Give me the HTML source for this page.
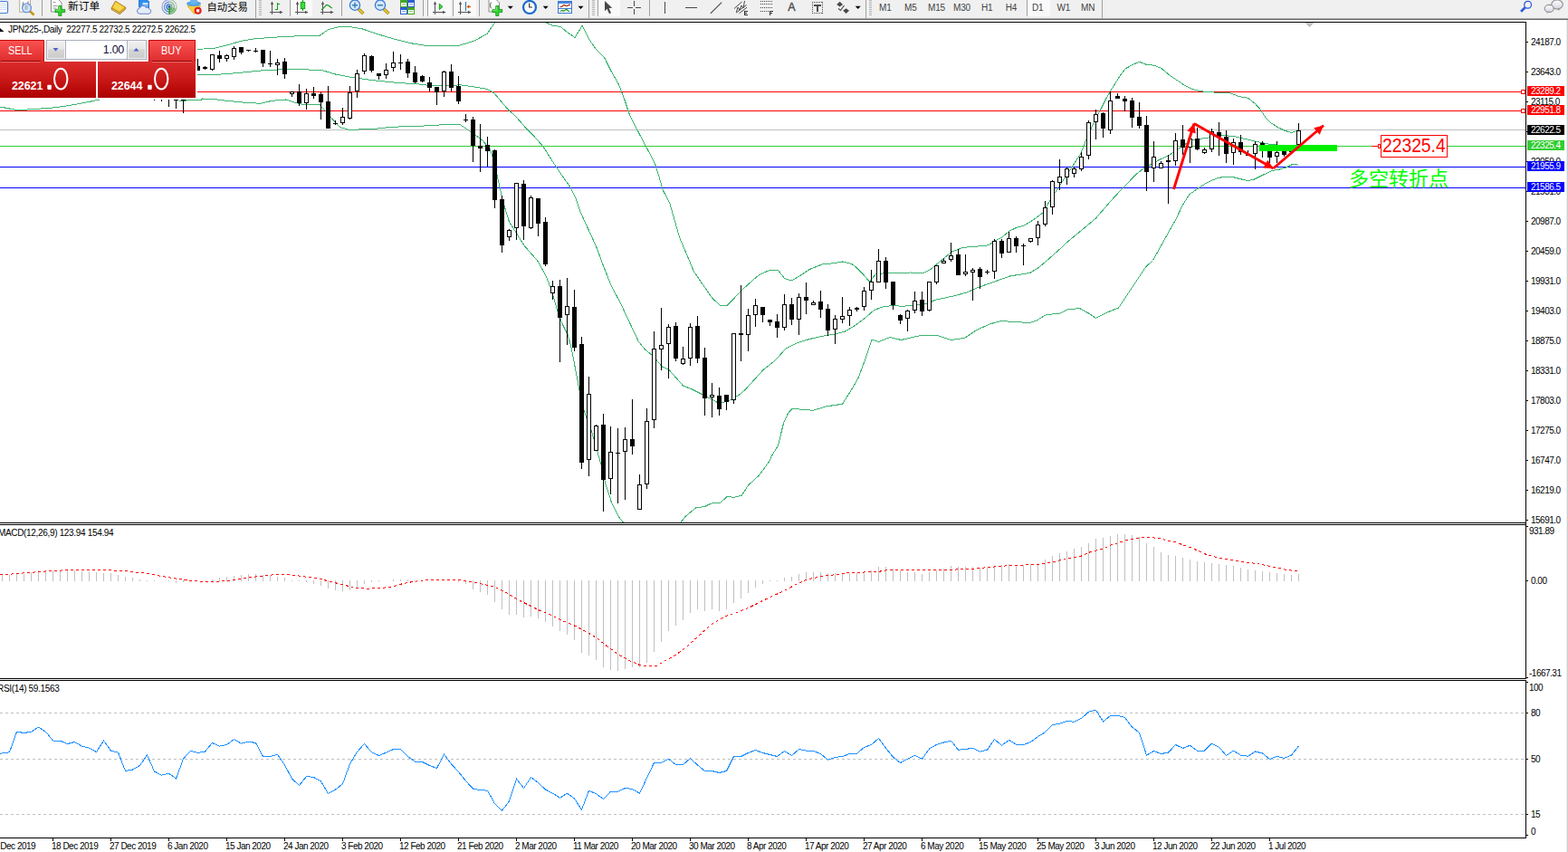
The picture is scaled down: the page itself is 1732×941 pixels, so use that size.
<!DOCTYPE html>
<html><head><meta charset="utf-8"><title>JPN225 Daily</title>
<style>
html,body{margin:0;padding:0;background:#fff;}
body{width:1732px;height:941px;position:relative;overflow:hidden;font-family:"Liberation Sans",sans-serif;}
svg{position:absolute;left:0;top:0;}
.t{position:absolute;white-space:nowrap;font-family:"Liberation Sans",sans-serif;}
</style></head><body>
<svg width="1732" height="941" viewBox="0 0 1732 941" shape-rendering="crispEdges">
<defs><clipPath id="cm"><rect x="0" y="25" width="1685" height="552"/></clipPath></defs>
<rect x="0" y="0" width="1732" height="20" fill="#f0f0f0"/>
<rect x="0" y="20" width="1732" height="1" fill="#a9a9a9"/>
<rect x="0" y="21" width="1732" height="1" fill="#696969"/>
<rect x="0" y="22" width="1732" height="919" fill="#ffffff"/>
<rect x="1730" y="22" width="1" height="919" fill="#ececec"/>
<rect x="1731" y="22" width="1" height="919" fill="#cfcfcf"/>
<rect x="0" y="24" width="1686" height="1" fill="#000"/>
<rect x="1685" y="24" width="1" height="726" fill="#000"/>
<rect x="1685" y="751" width="1" height="175" fill="#000"/>
<rect x="0" y="577" width="1686" height="1" fill="#000"/>
<rect x="0" y="579" width="1686" height="1" fill="#000"/>
<rect x="0" y="749" width="1686" height="1" fill="#000"/>
<rect x="0" y="751" width="1686" height="1" fill="#000"/>
<rect x="0" y="925" width="1686" height="1" fill="#000"/>
<polygon points="1442,25 1451.5,25 1446.7,30" fill="#c0c0c0"/>
<rect x="0" y="143" width="1685" height="1" fill="#c0c0c0"/>
<rect x="0" y="101" width="1685" height="1" fill="#ff0000"/>
<rect x="0" y="122" width="1685" height="1" fill="#ff0000"/>
<rect x="0" y="161" width="1685" height="1" fill="#32cd32"/>
<rect x="0" y="184" width="1685" height="1" fill="#0000ff"/>
<rect x="0" y="207" width="1685" height="1" fill="#0000ff"/>
<polyline points="218.0,54.5 238.0,53.0 250.5,50.0 265.5,45.5 280.5,43.0 300.5,41.3 325.5,40.0 353.0,39.3 363.0,32.5 375.5,29.3 385.5,29.3 400.5,32.0 418.0,38.0 438.0,43.8 455.5,48.0 470.5,50.5 488.0,51.0 508.0,50.0 523.0,45.5 538.0,37.5 546.5,25.0" fill="none" stroke="#3cb371" stroke-width="1" clip-path="url(#cm)"/>
<polyline points="603.0,25.0 610.2,28.0 619.2,29.5 626.5,35.5 635.0,41.5 643.2,28.3 650.5,43.0 658.2,54.3 668.0,64.3 674.5,77.5 683.5,93.3 689.5,109.0 695.5,127.0 700.5,137.0 712.5,159.8 723.2,180.0 727.5,193.6 732.2,210.0 739.5,223.6 745.5,244.6 750.5,262.0 766.5,300.0 777.5,316.0 786.5,329.0 795.5,337.5 803.5,337.2 817.5,322.5 826.5,314.0 835.5,306.0 840.5,302.5 850.5,298.3 859.3,298.3 866.5,307.5 874.3,310.0 883.0,305.0 894.3,297.5 908.0,292.0 923.0,290.5 930.5,289.0 940.5,291.3 945.5,295.0 953.5,303.0 960.5,311.3 967.5,302.5 975.5,302.0 990.5,301.8 1005.5,301.0 1019.3,301.8 1028.0,297.5 1034.5,292.0 1042.5,285.5 1051.5,278.0 1063.5,273.5 1074.5,272.3 1087.5,271.6 1092.5,270.5 1098.5,266.0 1106.5,262.3 1115.5,254.8 1122.5,251.6 1131.5,248.8 1140.5,243.5 1152.5,234.5 1160.5,220.0 1180.5,190.0 1193.5,170.0 1200.0,154.0 1205.3,142.0 1210.5,130.0 1216.5,119.6 1221.8,109.0 1227.0,100.0 1231.5,92.6 1236.8,84.3 1242.8,76.0 1251.1,71.5 1258.5,68.2 1266.1,71.2 1275.1,72.3 1282.5,75.3 1291.5,82.8 1300.5,88.8 1308.1,94.0 1317.1,98.6 1326.9,100.8 1344.2,102.3 1357.5,102.3 1369.5,106.8 1378.5,108.3 1386.2,114.3 1392.2,121.0 1398.2,130.0 1404.2,136.0 1411.5,140.6 1419.2,144.3 1426.5,146.6 1434.5,143.6" fill="none" stroke="#3cb371" stroke-width="1" clip-path="url(#cm)"/>
<polyline points="218.0,83.0 238.0,82.5 263.0,80.5 288.0,78.0 318.0,76.3 335.5,76.8 355.5,77.5 370.5,82.0 390.5,85.8 413.0,88.8 438.0,91.3 463.0,93.0 475.5,94.5 490.5,95.0 508.0,93.8 523.0,95.8 538.0,98.3 545.5,102.5 560.3,120.0 570.1,129.0 580.5,141.0 589.5,150.0 600.1,162.0 610.5,178.6 619.5,192.0 630.1,207.0 636.1,219.0 640.5,232.6 646.5,246.0 658.5,272.0 666.2,293.0 675.2,315.6 685.5,335.0 697.5,360.6 705.2,377.0 712.5,386.0 720.5,392.5 731.5,405.0 739.0,408.5 754.5,426.0 764.5,430.0 776.5,436.0 792.5,444.5 798.5,444.5 808.5,441.0 818.0,435.0 823.5,430.0 843.5,408.0 855.5,398.8 868.0,385.0 880.5,378.8 890.5,375.5 905.5,371.8 923.0,368.8 933.0,366.3 945.5,358.8 955.5,351.3 965.5,342.5 975.5,338.8 985.5,337.5 998.0,338.3 1008.0,337.0 1025.5,335.0 1033.0,331.3 1053.0,327.0 1068.0,323.0 1080.5,317.5 1098.0,311.3 1115.5,305.0 1138.0,301.3 1148.0,295.0 1158.0,286.3 1168.0,277.5 1180.5,266.0 1200.5,249.5 1210.5,241.0 1230.5,218.0 1240.5,207.5 1255.5,192.0 1264.5,185.0 1272.5,181.0 1280.5,176.5 1290.5,172.0 1296.5,168.0 1315.5,155.0 1333.5,152.2 1350.5,149.5 1362.5,150.5 1375.5,153.5 1388.5,156.5 1400.5,159.0 1420.5,161.0 1434.5,161.5" fill="none" stroke="#3cb371" stroke-width="1" clip-path="url(#cm)"/>
<polyline points="0.5,118.0 10.5,120.0 20.5,121.8 35.5,120.5 52.5,119.6 70.5,117.5 85.5,115.0 100.5,112.0 109.5,110.0" fill="none" stroke="#3cb371" stroke-width="1" clip-path="url(#cm)"/>
<polyline points="197.5,111.0 205.5,111.0 206.5,110.0 222.5,110.0 223.5,109.0 235.5,109.3 245.5,110.8 268.0,113.0 288.0,114.3 300.5,111.3 315.5,110.0 328.0,113.8 335.5,115.5 353.0,115.5 360.5,123.8 368.0,132.5 375.5,140.5 385.5,143.3 413.0,142.5 430.5,140.5 450.5,139.5 475.5,138.8 490.5,137.5 508.0,137.5 519.3,145.0 533.0,155.0 541.5,165.0 545.5,177.5 550.5,200.0 555.5,222.5 562.5,245.0 579.1,271.3 594.1,288.5 603.1,305.0 609.1,320.0 615.1,341.0 621.1,357.6 627.3,370.0 631.5,386.0 640.0,430.8 645.3,454.0 648.3,462.3 653.5,476.6 656.5,487.0 659.5,497.6 664.5,515.0 668.5,533.0 675.5,555.0 683.5,571.0 688.5,577.0" fill="none" stroke="#3cb371" stroke-width="1" clip-path="url(#cm)"/>
<polyline points="751.9,577.0 757.5,570.0 768.5,561.0 778.5,559.5 786.5,555.6 795.5,555.3 803.5,548.3 810.5,549.3 819.1,547.4 826.5,536.0 832.5,530.5 838.5,525.0 850.5,508.5 851.5,504.8 859.3,492.5 865.5,467.5 870.5,456.3 875.0,451.3 898.0,453.3 913.0,448.8 930.5,446.3 939.3,432.5 948.0,417.5 955.5,397.5 963.0,375.0 970.5,377.5 983.0,372.5 995.5,375.5 1015.5,370.8 1035.5,370.5 1050.5,375.5 1065.5,373.3 1078.0,365.0 1093.0,358.0 1105.5,354.5 1120.5,355.5 1138.0,356.5 1145.5,353.8 1155.5,347.5 1170.5,346.3 1180.5,341.3 1193.0,340.8 1203.0,346.3 1210.5,351.3 1223.0,345.0 1235.5,340.0 1245.5,325.0 1255.5,310.0 1265.5,295.0 1273.5,287.5 1299.5,241.0 1305.5,228.0 1313.5,215.0 1325.5,206.5 1335.5,200.5 1345.5,196.5 1353.5,195.2 1363.5,196.0 1371.5,198.0 1378.5,199.5 1385.5,198.0 1395.5,193.0 1405.5,188.5 1413.5,187.0 1420.5,185.0 1427.5,181.5 1431.5,181.5 1434.5,182.5" fill="none" stroke="#3cb371" stroke-width="1" clip-path="url(#cm)"/>
<rect x="170" y="100" width="1" height="11" fill="#000"/>
<rect x="170" y="100" width="1" height="11" fill="#000"/>
<rect x="168" y="100" width="5" height="8" fill="#000"/>
<rect x="169" y="101" width="3" height="6" fill="#fff"/>
<rect x="178" y="100" width="1" height="12" fill="#000"/>
<rect x="178" y="100" width="1" height="12" fill="#000"/>
<rect x="176" y="100" width="5" height="10" fill="#000"/>
<rect x="177" y="101" width="3" height="8" fill="#fff"/>
<rect x="186" y="100" width="1" height="18" fill="#000"/>
<rect x="186" y="100" width="1" height="18" fill="#000"/>
<rect x="184" y="100" width="5" height="8" fill="#000"/>
<rect x="185" y="101" width="3" height="6" fill="#fff"/>
<rect x="194" y="100" width="1" height="20" fill="#000"/>
<rect x="192" y="100" width="5" height="11" fill="#000"/>
<rect x="202" y="100" width="1" height="25" fill="#000"/>
<rect x="202" y="100" width="1" height="25" fill="#000"/>
<rect x="200" y="100" width="5" height="11" fill="#000"/>
<rect x="201" y="101" width="3" height="9" fill="#fff"/>
<rect x="218" y="65" width="1" height="13" fill="#000"/>
<rect x="216" y="73" width="5" height="5" fill="#000"/>
<rect x="226" y="73" width="1" height="4" fill="#000"/>
<rect x="224" y="74" width="5" height="2" fill="#000"/>
<rect x="234" y="60" width="1" height="18" fill="#000"/>
<rect x="234" y="60" width="1" height="18" fill="#000"/>
<rect x="232" y="60" width="5" height="17" fill="#000"/>
<rect x="233" y="61" width="3" height="15" fill="#fff"/>
<rect x="242" y="56" width="1" height="13" fill="#000"/>
<rect x="240" y="61" width="5" height="4" fill="#000"/>
<rect x="250" y="60" width="1" height="8" fill="#000"/>
<rect x="250" y="60" width="1" height="8" fill="#000"/>
<rect x="248" y="61" width="5" height="4" fill="#000"/>
<rect x="249" y="62" width="3" height="2" fill="#fff"/>
<rect x="258" y="51" width="1" height="15" fill="#000"/>
<rect x="258" y="51" width="1" height="15" fill="#000"/>
<rect x="256" y="53" width="5" height="10" fill="#000"/>
<rect x="257" y="54" width="3" height="8" fill="#fff"/>
<rect x="266" y="52" width="1" height="8" fill="#000"/>
<rect x="264" y="52" width="5" height="6" fill="#000"/>
<rect x="274" y="55" width="1" height="2" fill="#000"/>
<rect x="272" y="55" width="5" height="1" fill="#000"/>
<rect x="282" y="53" width="1" height="5" fill="#000"/>
<rect x="280" y="56" width="5" height="1" fill="#000"/>
<rect x="290" y="55" width="1" height="19" fill="#000"/>
<rect x="288" y="55" width="5" height="15" fill="#000"/>
<rect x="298" y="56" width="1" height="18" fill="#000"/>
<rect x="296" y="70" width="5" height="1" fill="#000"/>
<rect x="306" y="65" width="1" height="18" fill="#000"/>
<rect x="306" y="65" width="1" height="18" fill="#000"/>
<rect x="304" y="69" width="5" height="3" fill="#000"/>
<rect x="305" y="70" width="3" height="1" fill="#fff"/>
<rect x="314" y="64" width="1" height="23" fill="#000"/>
<rect x="312" y="68" width="5" height="14" fill="#000"/>
<rect x="322" y="101" width="1" height="6" fill="#000"/>
<rect x="322" y="101" width="1" height="6" fill="#000"/>
<rect x="320" y="101" width="5" height="3" fill="#000"/>
<rect x="321" y="102" width="3" height="1" fill="#fff"/>
<rect x="330" y="93" width="1" height="24" fill="#000"/>
<rect x="328" y="101" width="5" height="13" fill="#000"/>
<rect x="338" y="98" width="1" height="23" fill="#000"/>
<rect x="338" y="98" width="1" height="23" fill="#000"/>
<rect x="336" y="103" width="5" height="11" fill="#000"/>
<rect x="337" y="104" width="3" height="9" fill="#fff"/>
<rect x="346" y="96" width="1" height="13" fill="#000"/>
<rect x="344" y="103" width="5" height="3" fill="#000"/>
<rect x="354" y="102" width="1" height="30" fill="#000"/>
<rect x="352" y="104" width="5" height="9" fill="#000"/>
<rect x="362" y="95" width="1" height="47" fill="#000"/>
<rect x="360" y="112" width="5" height="30" fill="#000"/>
<rect x="370" y="133" width="1" height="5" fill="#000"/>
<rect x="368" y="136" width="5" height="1" fill="#000"/>
<rect x="378" y="119" width="1" height="19" fill="#000"/>
<rect x="378" y="119" width="1" height="19" fill="#000"/>
<rect x="376" y="129" width="5" height="7" fill="#000"/>
<rect x="377" y="130" width="3" height="5" fill="#fff"/>
<rect x="386" y="95" width="1" height="37" fill="#000"/>
<rect x="386" y="95" width="1" height="37" fill="#000"/>
<rect x="384" y="102" width="5" height="29" fill="#000"/>
<rect x="385" y="103" width="3" height="27" fill="#fff"/>
<rect x="394" y="77" width="1" height="31" fill="#000"/>
<rect x="394" y="77" width="1" height="31" fill="#000"/>
<rect x="392" y="81" width="5" height="20" fill="#000"/>
<rect x="393" y="82" width="3" height="18" fill="#fff"/>
<rect x="402" y="59" width="1" height="23" fill="#000"/>
<rect x="402" y="59" width="1" height="23" fill="#000"/>
<rect x="400" y="61" width="5" height="18" fill="#000"/>
<rect x="401" y="62" width="3" height="16" fill="#fff"/>
<rect x="410" y="61" width="1" height="19" fill="#000"/>
<rect x="408" y="62" width="5" height="16" fill="#000"/>
<rect x="418" y="81" width="1" height="7" fill="#000"/>
<rect x="416" y="81" width="5" height="3" fill="#000"/>
<rect x="426" y="70" width="1" height="17" fill="#000"/>
<rect x="426" y="70" width="1" height="17" fill="#000"/>
<rect x="424" y="77" width="5" height="6" fill="#000"/>
<rect x="425" y="78" width="3" height="4" fill="#fff"/>
<rect x="434" y="57" width="1" height="22" fill="#000"/>
<rect x="434" y="57" width="1" height="22" fill="#000"/>
<rect x="432" y="69" width="5" height="6" fill="#000"/>
<rect x="433" y="70" width="3" height="4" fill="#fff"/>
<rect x="442" y="60" width="1" height="17" fill="#000"/>
<rect x="440" y="69" width="5" height="1" fill="#000"/>
<rect x="450" y="65" width="1" height="21" fill="#000"/>
<rect x="448" y="68" width="5" height="13" fill="#000"/>
<rect x="458" y="73" width="1" height="19" fill="#000"/>
<rect x="456" y="80" width="5" height="11" fill="#000"/>
<rect x="466" y="83" width="1" height="8" fill="#000"/>
<rect x="464" y="84" width="5" height="6" fill="#000"/>
<rect x="474" y="85" width="1" height="16" fill="#000"/>
<rect x="472" y="91" width="5" height="6" fill="#000"/>
<rect x="482" y="96" width="1" height="20" fill="#000"/>
<rect x="480" y="96" width="5" height="6" fill="#000"/>
<rect x="490" y="78" width="1" height="29" fill="#000"/>
<rect x="490" y="78" width="1" height="29" fill="#000"/>
<rect x="488" y="79" width="5" height="22" fill="#000"/>
<rect x="489" y="80" width="3" height="20" fill="#fff"/>
<rect x="498" y="71" width="1" height="30" fill="#000"/>
<rect x="496" y="79" width="5" height="18" fill="#000"/>
<rect x="506" y="84" width="1" height="31" fill="#000"/>
<rect x="504" y="95" width="5" height="17" fill="#000"/>
<rect x="514" y="126" width="1" height="9" fill="#000"/>
<rect x="512" y="132" width="5" height="1" fill="#000"/>
<rect x="522" y="129" width="1" height="50" fill="#000"/>
<rect x="520" y="132" width="5" height="29" fill="#000"/>
<rect x="530" y="137" width="1" height="53" fill="#000"/>
<rect x="528" y="161" width="5" height="3" fill="#000"/>
<rect x="538" y="151" width="1" height="33" fill="#000"/>
<rect x="536" y="160" width="5" height="7" fill="#000"/>
<rect x="546" y="165" width="1" height="65" fill="#000"/>
<rect x="544" y="166" width="5" height="55" fill="#000"/>
<rect x="554" y="216" width="1" height="63" fill="#000"/>
<rect x="552" y="220" width="5" height="51" fill="#000"/>
<rect x="562" y="253" width="1" height="13" fill="#000"/>
<rect x="562" y="253" width="1" height="13" fill="#000"/>
<rect x="560" y="254" width="5" height="8" fill="#000"/>
<rect x="561" y="255" width="3" height="6" fill="#fff"/>
<rect x="570" y="202" width="1" height="63" fill="#000"/>
<rect x="570" y="202" width="1" height="63" fill="#000"/>
<rect x="568" y="202" width="5" height="50" fill="#000"/>
<rect x="569" y="203" width="3" height="48" fill="#fff"/>
<rect x="578" y="199" width="1" height="66" fill="#000"/>
<rect x="576" y="203" width="5" height="47" fill="#000"/>
<rect x="586" y="216" width="1" height="37" fill="#000"/>
<rect x="586" y="216" width="1" height="37" fill="#000"/>
<rect x="584" y="218" width="5" height="34" fill="#000"/>
<rect x="585" y="219" width="3" height="32" fill="#fff"/>
<rect x="594" y="219" width="1" height="42" fill="#000"/>
<rect x="592" y="219" width="5" height="28" fill="#000"/>
<rect x="602" y="240" width="1" height="54" fill="#000"/>
<rect x="600" y="245" width="5" height="47" fill="#000"/>
<rect x="610" y="310" width="1" height="21" fill="#000"/>
<rect x="610" y="310" width="1" height="21" fill="#000"/>
<rect x="608" y="316" width="5" height="8" fill="#000"/>
<rect x="609" y="317" width="3" height="6" fill="#fff"/>
<rect x="618" y="309" width="1" height="91" fill="#000"/>
<rect x="616" y="316" width="5" height="35" fill="#000"/>
<rect x="626" y="307" width="1" height="74" fill="#000"/>
<rect x="626" y="307" width="1" height="74" fill="#000"/>
<rect x="624" y="338" width="5" height="10" fill="#000"/>
<rect x="625" y="339" width="3" height="8" fill="#fff"/>
<rect x="634" y="320" width="1" height="68" fill="#000"/>
<rect x="632" y="339" width="5" height="45" fill="#000"/>
<rect x="642" y="372" width="1" height="146" fill="#000"/>
<rect x="640" y="380" width="5" height="131" fill="#000"/>
<rect x="650" y="416" width="1" height="110" fill="#000"/>
<rect x="650" y="416" width="1" height="110" fill="#000"/>
<rect x="648" y="435" width="5" height="73" fill="#000"/>
<rect x="649" y="436" width="3" height="71" fill="#fff"/>
<rect x="658" y="469" width="1" height="29" fill="#000"/>
<rect x="658" y="469" width="1" height="29" fill="#000"/>
<rect x="656" y="470" width="5" height="28" fill="#000"/>
<rect x="657" y="471" width="3" height="26" fill="#fff"/>
<rect x="666" y="457" width="1" height="108" fill="#000"/>
<rect x="664" y="469" width="5" height="61" fill="#000"/>
<rect x="674" y="471" width="1" height="75" fill="#000"/>
<rect x="674" y="471" width="1" height="75" fill="#000"/>
<rect x="672" y="499" width="5" height="30" fill="#000"/>
<rect x="673" y="500" width="3" height="28" fill="#fff"/>
<rect x="682" y="473" width="1" height="83" fill="#000"/>
<rect x="680" y="500" width="5" height="1" fill="#000"/>
<rect x="690" y="472" width="1" height="80" fill="#000"/>
<rect x="690" y="472" width="1" height="80" fill="#000"/>
<rect x="688" y="485" width="5" height="14" fill="#000"/>
<rect x="689" y="486" width="3" height="12" fill="#fff"/>
<rect x="698" y="441" width="1" height="61" fill="#000"/>
<rect x="696" y="485" width="5" height="8" fill="#000"/>
<rect x="706" y="524" width="1" height="39" fill="#000"/>
<rect x="706" y="524" width="1" height="39" fill="#000"/>
<rect x="704" y="535" width="5" height="28" fill="#000"/>
<rect x="705" y="536" width="3" height="26" fill="#fff"/>
<rect x="714" y="451" width="1" height="89" fill="#000"/>
<rect x="714" y="451" width="1" height="89" fill="#000"/>
<rect x="712" y="465" width="5" height="70" fill="#000"/>
<rect x="713" y="466" width="3" height="68" fill="#fff"/>
<rect x="722" y="366" width="1" height="107" fill="#000"/>
<rect x="722" y="366" width="1" height="107" fill="#000"/>
<rect x="720" y="385" width="5" height="79" fill="#000"/>
<rect x="721" y="386" width="3" height="77" fill="#fff"/>
<rect x="730" y="340" width="1" height="69" fill="#000"/>
<rect x="730" y="340" width="1" height="69" fill="#000"/>
<rect x="728" y="381" width="5" height="5" fill="#000"/>
<rect x="729" y="382" width="3" height="3" fill="#fff"/>
<rect x="738" y="358" width="1" height="60" fill="#000"/>
<rect x="738" y="358" width="1" height="60" fill="#000"/>
<rect x="736" y="361" width="5" height="19" fill="#000"/>
<rect x="737" y="362" width="3" height="17" fill="#fff"/>
<rect x="746" y="356" width="1" height="43" fill="#000"/>
<rect x="744" y="360" width="5" height="36" fill="#000"/>
<rect x="754" y="383" width="1" height="20" fill="#000"/>
<rect x="754" y="383" width="1" height="20" fill="#000"/>
<rect x="752" y="396" width="5" height="6" fill="#000"/>
<rect x="753" y="397" width="3" height="4" fill="#fff"/>
<rect x="762" y="357" width="1" height="47" fill="#000"/>
<rect x="762" y="357" width="1" height="47" fill="#000"/>
<rect x="760" y="361" width="5" height="35" fill="#000"/>
<rect x="761" y="362" width="3" height="33" fill="#fff"/>
<rect x="770" y="349" width="1" height="52" fill="#000"/>
<rect x="768" y="360" width="5" height="36" fill="#000"/>
<rect x="778" y="384" width="1" height="75" fill="#000"/>
<rect x="776" y="395" width="5" height="45" fill="#000"/>
<rect x="786" y="423" width="1" height="38" fill="#000"/>
<rect x="786" y="423" width="1" height="38" fill="#000"/>
<rect x="784" y="436" width="5" height="3" fill="#000"/>
<rect x="785" y="437" width="3" height="1" fill="#fff"/>
<rect x="794" y="428" width="1" height="31" fill="#000"/>
<rect x="792" y="437" width="5" height="15" fill="#000"/>
<rect x="802" y="436" width="1" height="17" fill="#000"/>
<rect x="800" y="436" width="5" height="8" fill="#000"/>
<rect x="810" y="368" width="1" height="78" fill="#000"/>
<rect x="810" y="368" width="1" height="78" fill="#000"/>
<rect x="808" y="368" width="5" height="74" fill="#000"/>
<rect x="809" y="369" width="3" height="72" fill="#fff"/>
<rect x="818" y="315" width="1" height="84" fill="#000"/>
<rect x="816" y="368" width="5" height="2" fill="#000"/>
<rect x="826" y="341" width="1" height="47" fill="#000"/>
<rect x="826" y="341" width="1" height="47" fill="#000"/>
<rect x="824" y="348" width="5" height="22" fill="#000"/>
<rect x="825" y="349" width="3" height="20" fill="#fff"/>
<rect x="834" y="330" width="1" height="31" fill="#000"/>
<rect x="834" y="330" width="1" height="31" fill="#000"/>
<rect x="832" y="337" width="5" height="11" fill="#000"/>
<rect x="833" y="338" width="3" height="9" fill="#fff"/>
<rect x="842" y="339" width="1" height="17" fill="#000"/>
<rect x="840" y="339" width="5" height="9" fill="#000"/>
<rect x="850" y="353" width="1" height="7" fill="#000"/>
<rect x="848" y="353" width="5" height="3" fill="#000"/>
<rect x="858" y="347" width="1" height="26" fill="#000"/>
<rect x="856" y="355" width="5" height="7" fill="#000"/>
<rect x="866" y="325" width="1" height="40" fill="#000"/>
<rect x="866" y="325" width="1" height="40" fill="#000"/>
<rect x="864" y="336" width="5" height="26" fill="#000"/>
<rect x="865" y="337" width="3" height="24" fill="#fff"/>
<rect x="874" y="329" width="1" height="30" fill="#000"/>
<rect x="872" y="336" width="5" height="17" fill="#000"/>
<rect x="882" y="324" width="1" height="46" fill="#000"/>
<rect x="882" y="324" width="1" height="46" fill="#000"/>
<rect x="880" y="328" width="5" height="25" fill="#000"/>
<rect x="881" y="329" width="3" height="23" fill="#fff"/>
<rect x="890" y="312" width="1" height="35" fill="#000"/>
<rect x="888" y="328" width="5" height="4" fill="#000"/>
<rect x="898" y="332" width="1" height="4" fill="#000"/>
<rect x="898" y="332" width="1" height="5" fill="#000"/>
<rect x="896" y="334" width="5" height="3" fill="#000"/>
<rect x="897" y="335" width="3" height="1" fill="#fff"/>
<rect x="906" y="321" width="1" height="30" fill="#000"/>
<rect x="904" y="333" width="5" height="9" fill="#000"/>
<rect x="914" y="336" width="1" height="35" fill="#000"/>
<rect x="912" y="341" width="5" height="24" fill="#000"/>
<rect x="922" y="348" width="1" height="32" fill="#000"/>
<rect x="922" y="348" width="1" height="32" fill="#000"/>
<rect x="920" y="352" width="5" height="12" fill="#000"/>
<rect x="921" y="353" width="3" height="10" fill="#fff"/>
<rect x="930" y="328" width="1" height="29" fill="#000"/>
<rect x="930" y="328" width="1" height="29" fill="#000"/>
<rect x="928" y="349" width="5" height="4" fill="#000"/>
<rect x="929" y="350" width="3" height="2" fill="#fff"/>
<rect x="938" y="339" width="1" height="21" fill="#000"/>
<rect x="938" y="339" width="1" height="21" fill="#000"/>
<rect x="936" y="342" width="5" height="7" fill="#000"/>
<rect x="937" y="343" width="3" height="5" fill="#fff"/>
<rect x="946" y="339" width="1" height="5" fill="#000"/>
<rect x="944" y="340" width="5" height="2" fill="#000"/>
<rect x="954" y="317" width="1" height="26" fill="#000"/>
<rect x="954" y="317" width="1" height="26" fill="#000"/>
<rect x="952" y="321" width="5" height="18" fill="#000"/>
<rect x="953" y="322" width="3" height="16" fill="#fff"/>
<rect x="962" y="298" width="1" height="33" fill="#000"/>
<rect x="962" y="298" width="1" height="33" fill="#000"/>
<rect x="960" y="311" width="5" height="10" fill="#000"/>
<rect x="961" y="312" width="3" height="8" fill="#fff"/>
<rect x="970" y="275" width="1" height="37" fill="#000"/>
<rect x="970" y="275" width="1" height="37" fill="#000"/>
<rect x="968" y="288" width="5" height="24" fill="#000"/>
<rect x="969" y="289" width="3" height="22" fill="#fff"/>
<rect x="978" y="284" width="1" height="35" fill="#000"/>
<rect x="976" y="288" width="5" height="24" fill="#000"/>
<rect x="986" y="311" width="1" height="31" fill="#000"/>
<rect x="984" y="311" width="5" height="26" fill="#000"/>
<rect x="994" y="347" width="1" height="11" fill="#000"/>
<rect x="992" y="348" width="5" height="6" fill="#000"/>
<rect x="1002" y="342" width="1" height="24" fill="#000"/>
<rect x="1002" y="342" width="1" height="24" fill="#000"/>
<rect x="1000" y="343" width="5" height="9" fill="#000"/>
<rect x="1001" y="344" width="3" height="7" fill="#fff"/>
<rect x="1010" y="322" width="1" height="24" fill="#000"/>
<rect x="1010" y="322" width="1" height="24" fill="#000"/>
<rect x="1008" y="332" width="5" height="11" fill="#000"/>
<rect x="1009" y="333" width="3" height="9" fill="#fff"/>
<rect x="1018" y="322" width="1" height="27" fill="#000"/>
<rect x="1016" y="331" width="5" height="13" fill="#000"/>
<rect x="1026" y="311" width="1" height="33" fill="#000"/>
<rect x="1026" y="311" width="1" height="33" fill="#000"/>
<rect x="1024" y="311" width="5" height="32" fill="#000"/>
<rect x="1025" y="312" width="3" height="30" fill="#fff"/>
<rect x="1034" y="293" width="1" height="21" fill="#000"/>
<rect x="1034" y="293" width="1" height="21" fill="#000"/>
<rect x="1032" y="293" width="5" height="19" fill="#000"/>
<rect x="1033" y="294" width="3" height="17" fill="#fff"/>
<rect x="1042" y="285" width="1" height="5" fill="#000"/>
<rect x="1042" y="285" width="1" height="6" fill="#000"/>
<rect x="1040" y="288" width="5" height="3" fill="#000"/>
<rect x="1041" y="289" width="3" height="1" fill="#fff"/>
<rect x="1050" y="268" width="1" height="21" fill="#000"/>
<rect x="1050" y="268" width="1" height="21" fill="#000"/>
<rect x="1048" y="282" width="5" height="5" fill="#000"/>
<rect x="1049" y="283" width="3" height="3" fill="#fff"/>
<rect x="1058" y="275" width="1" height="29" fill="#000"/>
<rect x="1056" y="281" width="5" height="23" fill="#000"/>
<rect x="1066" y="281" width="1" height="24" fill="#000"/>
<rect x="1066" y="281" width="1" height="24" fill="#000"/>
<rect x="1064" y="300" width="5" height="3" fill="#000"/>
<rect x="1065" y="301" width="3" height="1" fill="#fff"/>
<rect x="1074" y="296" width="1" height="36" fill="#000"/>
<rect x="1074" y="296" width="1" height="36" fill="#000"/>
<rect x="1072" y="298" width="5" height="3" fill="#000"/>
<rect x="1073" y="299" width="3" height="1" fill="#fff"/>
<rect x="1082" y="295" width="1" height="24" fill="#000"/>
<rect x="1080" y="297" width="5" height="9" fill="#000"/>
<rect x="1090" y="298" width="1" height="5" fill="#000"/>
<rect x="1088" y="300" width="5" height="1" fill="#000"/>
<rect x="1098" y="264" width="1" height="44" fill="#000"/>
<rect x="1098" y="264" width="1" height="44" fill="#000"/>
<rect x="1096" y="266" width="5" height="34" fill="#000"/>
<rect x="1097" y="267" width="3" height="32" fill="#fff"/>
<rect x="1106" y="264" width="1" height="21" fill="#000"/>
<rect x="1104" y="266" width="5" height="14" fill="#000"/>
<rect x="1114" y="256" width="1" height="23" fill="#000"/>
<rect x="1114" y="256" width="1" height="23" fill="#000"/>
<rect x="1112" y="263" width="5" height="16" fill="#000"/>
<rect x="1113" y="264" width="3" height="14" fill="#fff"/>
<rect x="1122" y="261" width="1" height="18" fill="#000"/>
<rect x="1120" y="263" width="5" height="9" fill="#000"/>
<rect x="1130" y="269" width="1" height="24" fill="#000"/>
<rect x="1128" y="271" width="5" height="1" fill="#000"/>
<rect x="1138" y="263" width="1" height="5" fill="#000"/>
<rect x="1138" y="263" width="1" height="5" fill="#000"/>
<rect x="1136" y="263" width="5" height="4" fill="#000"/>
<rect x="1137" y="264" width="3" height="2" fill="#fff"/>
<rect x="1146" y="244" width="1" height="27" fill="#000"/>
<rect x="1146" y="244" width="1" height="27" fill="#000"/>
<rect x="1144" y="248" width="5" height="15" fill="#000"/>
<rect x="1145" y="249" width="3" height="13" fill="#fff"/>
<rect x="1154" y="222" width="1" height="28" fill="#000"/>
<rect x="1154" y="222" width="1" height="28" fill="#000"/>
<rect x="1152" y="229" width="5" height="19" fill="#000"/>
<rect x="1153" y="230" width="3" height="17" fill="#fff"/>
<rect x="1162" y="199" width="1" height="38" fill="#000"/>
<rect x="1162" y="199" width="1" height="38" fill="#000"/>
<rect x="1160" y="200" width="5" height="29" fill="#000"/>
<rect x="1161" y="201" width="3" height="27" fill="#fff"/>
<rect x="1170" y="176" width="1" height="34" fill="#000"/>
<rect x="1170" y="176" width="1" height="34" fill="#000"/>
<rect x="1168" y="195" width="5" height="7" fill="#000"/>
<rect x="1169" y="196" width="3" height="5" fill="#fff"/>
<rect x="1178" y="185" width="1" height="19" fill="#000"/>
<rect x="1178" y="185" width="1" height="19" fill="#000"/>
<rect x="1176" y="186" width="5" height="10" fill="#000"/>
<rect x="1177" y="187" width="3" height="8" fill="#fff"/>
<rect x="1186" y="185" width="1" height="11" fill="#000"/>
<rect x="1186" y="185" width="1" height="11" fill="#000"/>
<rect x="1184" y="186" width="5" height="6" fill="#000"/>
<rect x="1185" y="187" width="3" height="4" fill="#fff"/>
<rect x="1194" y="168" width="1" height="21" fill="#000"/>
<rect x="1194" y="168" width="1" height="21" fill="#000"/>
<rect x="1192" y="173" width="5" height="14" fill="#000"/>
<rect x="1193" y="174" width="3" height="12" fill="#fff"/>
<rect x="1202" y="133" width="1" height="43" fill="#000"/>
<rect x="1202" y="133" width="1" height="43" fill="#000"/>
<rect x="1200" y="135" width="5" height="37" fill="#000"/>
<rect x="1201" y="136" width="3" height="35" fill="#fff"/>
<rect x="1210" y="121" width="1" height="33" fill="#000"/>
<rect x="1210" y="121" width="1" height="33" fill="#000"/>
<rect x="1208" y="126" width="5" height="9" fill="#000"/>
<rect x="1209" y="127" width="3" height="7" fill="#fff"/>
<rect x="1218" y="124" width="1" height="28" fill="#000"/>
<rect x="1216" y="125" width="5" height="17" fill="#000"/>
<rect x="1226" y="101" width="1" height="47" fill="#000"/>
<rect x="1226" y="101" width="1" height="47" fill="#000"/>
<rect x="1224" y="111" width="5" height="33" fill="#000"/>
<rect x="1225" y="112" width="3" height="31" fill="#fff"/>
<rect x="1234" y="103" width="1" height="6" fill="#000"/>
<rect x="1232" y="106" width="5" height="3" fill="#000"/>
<rect x="1242" y="106" width="1" height="17" fill="#000"/>
<rect x="1240" y="109" width="5" height="3" fill="#000"/>
<rect x="1250" y="108" width="1" height="33" fill="#000"/>
<rect x="1248" y="111" width="5" height="19" fill="#000"/>
<rect x="1258" y="113" width="1" height="29" fill="#000"/>
<rect x="1256" y="129" width="5" height="10" fill="#000"/>
<rect x="1266" y="128" width="1" height="83" fill="#000"/>
<rect x="1264" y="138" width="5" height="52" fill="#000"/>
<rect x="1274" y="156" width="1" height="45" fill="#000"/>
<rect x="1274" y="156" width="1" height="45" fill="#000"/>
<rect x="1272" y="173" width="5" height="13" fill="#000"/>
<rect x="1273" y="174" width="3" height="11" fill="#fff"/>
<rect x="1282" y="178" width="1" height="8" fill="#000"/>
<rect x="1282" y="178" width="1" height="8" fill="#000"/>
<rect x="1280" y="180" width="5" height="6" fill="#000"/>
<rect x="1281" y="181" width="3" height="4" fill="#fff"/>
<rect x="1290" y="171" width="1" height="54" fill="#000"/>
<rect x="1288" y="177" width="5" height="2" fill="#000"/>
<rect x="1298" y="147" width="1" height="36" fill="#000"/>
<rect x="1298" y="147" width="1" height="36" fill="#000"/>
<rect x="1296" y="155" width="5" height="23" fill="#000"/>
<rect x="1297" y="156" width="3" height="21" fill="#fff"/>
<rect x="1306" y="138" width="1" height="33" fill="#000"/>
<rect x="1304" y="154" width="5" height="9" fill="#000"/>
<rect x="1314" y="153" width="1" height="27" fill="#000"/>
<rect x="1314" y="153" width="1" height="27" fill="#000"/>
<rect x="1312" y="153" width="5" height="10" fill="#000"/>
<rect x="1313" y="154" width="3" height="8" fill="#fff"/>
<rect x="1322" y="141" width="1" height="25" fill="#000"/>
<rect x="1320" y="153" width="5" height="12" fill="#000"/>
<rect x="1330" y="163" width="1" height="7" fill="#000"/>
<rect x="1330" y="163" width="1" height="7" fill="#000"/>
<rect x="1328" y="165" width="5" height="4" fill="#000"/>
<rect x="1329" y="166" width="3" height="2" fill="#fff"/>
<rect x="1338" y="142" width="1" height="26" fill="#000"/>
<rect x="1338" y="142" width="1" height="26" fill="#000"/>
<rect x="1336" y="145" width="5" height="20" fill="#000"/>
<rect x="1337" y="146" width="3" height="18" fill="#fff"/>
<rect x="1346" y="135" width="1" height="37" fill="#000"/>
<rect x="1344" y="146" width="5" height="5" fill="#000"/>
<rect x="1354" y="144" width="1" height="36" fill="#000"/>
<rect x="1352" y="151" width="5" height="19" fill="#000"/>
<rect x="1362" y="153" width="1" height="29" fill="#000"/>
<rect x="1362" y="153" width="1" height="29" fill="#000"/>
<rect x="1360" y="157" width="5" height="12" fill="#000"/>
<rect x="1361" y="158" width="3" height="10" fill="#fff"/>
<rect x="1370" y="149" width="1" height="22" fill="#000"/>
<rect x="1368" y="157" width="5" height="11" fill="#000"/>
<rect x="1378" y="166" width="1" height="6" fill="#000"/>
<rect x="1376" y="170" width="5" height="2" fill="#000"/>
<rect x="1386" y="156" width="1" height="31" fill="#000"/>
<rect x="1386" y="156" width="1" height="31" fill="#000"/>
<rect x="1384" y="159" width="5" height="11" fill="#000"/>
<rect x="1385" y="160" width="3" height="9" fill="#fff"/>
<rect x="1394" y="156" width="1" height="18" fill="#000"/>
<rect x="1392" y="158" width="5" height="9" fill="#000"/>
<rect x="1402" y="166" width="1" height="14" fill="#000"/>
<rect x="1400" y="167" width="5" height="7" fill="#000"/>
<rect x="1410" y="156" width="1" height="24" fill="#000"/>
<rect x="1410" y="156" width="1" height="24" fill="#000"/>
<rect x="1408" y="168" width="5" height="5" fill="#000"/>
<rect x="1409" y="169" width="3" height="3" fill="#fff"/>
<rect x="1418" y="166" width="1" height="7" fill="#000"/>
<rect x="1416" y="167" width="5" height="4" fill="#000"/>
<rect x="1426" y="163" width="1" height="6" fill="#000"/>
<rect x="1426" y="163" width="1" height="6" fill="#000"/>
<rect x="1424" y="165" width="5" height="3" fill="#000"/>
<rect x="1425" y="166" width="3" height="1" fill="#fff"/>
<rect x="1434" y="136" width="1" height="24" fill="#000"/>
<rect x="1434" y="136" width="1" height="24" fill="#000"/>
<rect x="1432" y="144" width="5" height="16" fill="#000"/>
<rect x="1433" y="145" width="3" height="14" fill="#fff"/>
<rect x="2" y="634" width="1" height="8" fill="#c0c0c0"/>
<rect x="10" y="635" width="1" height="7" fill="#c0c0c0"/>
<rect x="18" y="634" width="1" height="8" fill="#c0c0c0"/>
<rect x="26" y="634" width="1" height="8" fill="#c0c0c0"/>
<rect x="34" y="632" width="1" height="10" fill="#c0c0c0"/>
<rect x="42" y="630" width="1" height="12" fill="#c0c0c0"/>
<rect x="50" y="630" width="1" height="12" fill="#c0c0c0"/>
<rect x="58" y="630" width="1" height="12" fill="#c0c0c0"/>
<rect x="66" y="630" width="1" height="12" fill="#c0c0c0"/>
<rect x="74" y="630" width="1" height="12" fill="#c0c0c0"/>
<rect x="82" y="630" width="1" height="12" fill="#c0c0c0"/>
<rect x="90" y="631" width="1" height="11" fill="#c0c0c0"/>
<rect x="98" y="631" width="1" height="11" fill="#c0c0c0"/>
<rect x="106" y="632" width="1" height="10" fill="#c0c0c0"/>
<rect x="114" y="633" width="1" height="9" fill="#c0c0c0"/>
<rect x="122" y="633" width="1" height="9" fill="#c0c0c0"/>
<rect x="130" y="635" width="1" height="7" fill="#c0c0c0"/>
<rect x="138" y="637" width="1" height="5" fill="#c0c0c0"/>
<rect x="146" y="638" width="1" height="4" fill="#c0c0c0"/>
<rect x="154" y="640" width="1" height="2" fill="#c0c0c0"/>
<rect x="162" y="641" width="1" height="1" fill="#c0c0c0"/>
<rect x="170" y="641" width="1" height="1" fill="#c0c0c0"/>
<rect x="186" y="641" width="1" height="1" fill="#c0c0c0"/>
<rect x="194" y="641" width="1" height="3" fill="#c0c0c0"/>
<rect x="202" y="641" width="1" height="2" fill="#c0c0c0"/>
<rect x="210" y="641" width="1" height="1" fill="#c0c0c0"/>
<rect x="226" y="641" width="1" height="1" fill="#c0c0c0"/>
<rect x="234" y="640" width="1" height="2" fill="#c0c0c0"/>
<rect x="242" y="638" width="1" height="4" fill="#c0c0c0"/>
<rect x="250" y="637" width="1" height="5" fill="#c0c0c0"/>
<rect x="258" y="636" width="1" height="6" fill="#c0c0c0"/>
<rect x="266" y="635" width="1" height="7" fill="#c0c0c0"/>
<rect x="274" y="634" width="1" height="8" fill="#c0c0c0"/>
<rect x="282" y="634" width="1" height="8" fill="#c0c0c0"/>
<rect x="290" y="635" width="1" height="7" fill="#c0c0c0"/>
<rect x="298" y="636" width="1" height="6" fill="#c0c0c0"/>
<rect x="306" y="637" width="1" height="5" fill="#c0c0c0"/>
<rect x="314" y="638" width="1" height="4" fill="#c0c0c0"/>
<rect x="322" y="641" width="1" height="1" fill="#c0c0c0"/>
<rect x="330" y="641" width="1" height="1" fill="#c0c0c0"/>
<rect x="338" y="641" width="1" height="2" fill="#c0c0c0"/>
<rect x="346" y="641" width="1" height="4" fill="#c0c0c0"/>
<rect x="354" y="641" width="1" height="6" fill="#c0c0c0"/>
<rect x="362" y="641" width="1" height="9" fill="#c0c0c0"/>
<rect x="370" y="641" width="1" height="11" fill="#c0c0c0"/>
<rect x="378" y="641" width="1" height="12" fill="#c0c0c0"/>
<rect x="386" y="641" width="1" height="11" fill="#c0c0c0"/>
<rect x="394" y="641" width="1" height="8" fill="#c0c0c0"/>
<rect x="402" y="641" width="1" height="4" fill="#c0c0c0"/>
<rect x="410" y="641" width="1" height="2" fill="#c0c0c0"/>
<rect x="418" y="641" width="1" height="1" fill="#c0c0c0"/>
<rect x="434" y="640" width="1" height="2" fill="#c0c0c0"/>
<rect x="442" y="640" width="1" height="2" fill="#c0c0c0"/>
<rect x="450" y="640" width="1" height="2" fill="#c0c0c0"/>
<rect x="458" y="641" width="1" height="1" fill="#c0c0c0"/>
<rect x="506" y="641" width="1" height="2" fill="#c0c0c0"/>
<rect x="514" y="641" width="1" height="4" fill="#c0c0c0"/>
<rect x="522" y="641" width="1" height="10" fill="#c0c0c0"/>
<rect x="530" y="641" width="1" height="13" fill="#c0c0c0"/>
<rect x="538" y="641" width="1" height="16" fill="#c0c0c0"/>
<rect x="546" y="641" width="1" height="24" fill="#c0c0c0"/>
<rect x="554" y="641" width="1" height="32" fill="#c0c0c0"/>
<rect x="562" y="641" width="1" height="38" fill="#c0c0c0"/>
<rect x="570" y="641" width="1" height="38" fill="#c0c0c0"/>
<rect x="578" y="641" width="1" height="41" fill="#c0c0c0"/>
<rect x="586" y="641" width="1" height="40" fill="#c0c0c0"/>
<rect x="594" y="641" width="1" height="42" fill="#c0c0c0"/>
<rect x="602" y="641" width="1" height="46" fill="#c0c0c0"/>
<rect x="610" y="641" width="1" height="51" fill="#c0c0c0"/>
<rect x="618" y="641" width="1" height="56" fill="#c0c0c0"/>
<rect x="626" y="641" width="1" height="60" fill="#c0c0c0"/>
<rect x="634" y="641" width="1" height="66" fill="#c0c0c0"/>
<rect x="642" y="641" width="1" height="80" fill="#c0c0c0"/>
<rect x="650" y="641" width="1" height="83" fill="#c0c0c0"/>
<rect x="658" y="641" width="1" height="88" fill="#c0c0c0"/>
<rect x="666" y="641" width="1" height="96" fill="#c0c0c0"/>
<rect x="674" y="641" width="1" height="99" fill="#c0c0c0"/>
<rect x="682" y="641" width="1" height="100" fill="#c0c0c0"/>
<rect x="690" y="641" width="1" height="98" fill="#c0c0c0"/>
<rect x="698" y="641" width="1" height="96" fill="#c0c0c0"/>
<rect x="706" y="641" width="1" height="96" fill="#c0c0c0"/>
<rect x="714" y="641" width="1" height="91" fill="#c0c0c0"/>
<rect x="722" y="641" width="1" height="79" fill="#c0c0c0"/>
<rect x="730" y="641" width="1" height="68" fill="#c0c0c0"/>
<rect x="738" y="641" width="1" height="56" fill="#c0c0c0"/>
<rect x="746" y="641" width="1" height="50" fill="#c0c0c0"/>
<rect x="754" y="641" width="1" height="44" fill="#c0c0c0"/>
<rect x="762" y="641" width="1" height="36" fill="#c0c0c0"/>
<rect x="770" y="641" width="1" height="32" fill="#c0c0c0"/>
<rect x="778" y="641" width="1" height="34" fill="#c0c0c0"/>
<rect x="786" y="641" width="1" height="32" fill="#c0c0c0"/>
<rect x="794" y="641" width="1" height="34" fill="#c0c0c0"/>
<rect x="802" y="641" width="1" height="32" fill="#c0c0c0"/>
<rect x="810" y="641" width="1" height="25" fill="#c0c0c0"/>
<rect x="818" y="641" width="1" height="20" fill="#c0c0c0"/>
<rect x="826" y="641" width="1" height="14" fill="#c0c0c0"/>
<rect x="834" y="641" width="1" height="8" fill="#c0c0c0"/>
<rect x="842" y="641" width="1" height="4" fill="#c0c0c0"/>
<rect x="850" y="641" width="1" height="1" fill="#c0c0c0"/>
<rect x="858" y="641" width="1" height="1" fill="#c0c0c0"/>
<rect x="866" y="638" width="1" height="4" fill="#c0c0c0"/>
<rect x="874" y="637" width="1" height="5" fill="#c0c0c0"/>
<rect x="882" y="634" width="1" height="8" fill="#c0c0c0"/>
<rect x="890" y="632" width="1" height="10" fill="#c0c0c0"/>
<rect x="898" y="632" width="1" height="10" fill="#c0c0c0"/>
<rect x="906" y="632" width="1" height="10" fill="#c0c0c0"/>
<rect x="914" y="633" width="1" height="9" fill="#c0c0c0"/>
<rect x="922" y="633" width="1" height="9" fill="#c0c0c0"/>
<rect x="930" y="633" width="1" height="9" fill="#c0c0c0"/>
<rect x="938" y="633" width="1" height="9" fill="#c0c0c0"/>
<rect x="946" y="633" width="1" height="9" fill="#c0c0c0"/>
<rect x="954" y="632" width="1" height="10" fill="#c0c0c0"/>
<rect x="962" y="630" width="1" height="12" fill="#c0c0c0"/>
<rect x="970" y="626" width="1" height="16" fill="#c0c0c0"/>
<rect x="978" y="626" width="1" height="16" fill="#c0c0c0"/>
<rect x="986" y="628" width="1" height="14" fill="#c0c0c0"/>
<rect x="994" y="630" width="1" height="12" fill="#c0c0c0"/>
<rect x="1002" y="632" width="1" height="10" fill="#c0c0c0"/>
<rect x="1010" y="632" width="1" height="10" fill="#c0c0c0"/>
<rect x="1018" y="634" width="1" height="8" fill="#c0c0c0"/>
<rect x="1026" y="632" width="1" height="10" fill="#c0c0c0"/>
<rect x="1034" y="630" width="1" height="12" fill="#c0c0c0"/>
<rect x="1042" y="628" width="1" height="14" fill="#c0c0c0"/>
<rect x="1050" y="625" width="1" height="17" fill="#c0c0c0"/>
<rect x="1058" y="626" width="1" height="16" fill="#c0c0c0"/>
<rect x="1066" y="626" width="1" height="16" fill="#c0c0c0"/>
<rect x="1074" y="626" width="1" height="16" fill="#c0c0c0"/>
<rect x="1082" y="627" width="1" height="15" fill="#c0c0c0"/>
<rect x="1090" y="627" width="1" height="15" fill="#c0c0c0"/>
<rect x="1098" y="626" width="1" height="16" fill="#c0c0c0"/>
<rect x="1106" y="624" width="1" height="18" fill="#c0c0c0"/>
<rect x="1114" y="623" width="1" height="19" fill="#c0c0c0"/>
<rect x="1122" y="624" width="1" height="18" fill="#c0c0c0"/>
<rect x="1130" y="624" width="1" height="18" fill="#c0c0c0"/>
<rect x="1138" y="623" width="1" height="19" fill="#c0c0c0"/>
<rect x="1146" y="622" width="1" height="20" fill="#c0c0c0"/>
<rect x="1154" y="618" width="1" height="24" fill="#c0c0c0"/>
<rect x="1162" y="614" width="1" height="28" fill="#c0c0c0"/>
<rect x="1170" y="611" width="1" height="31" fill="#c0c0c0"/>
<rect x="1178" y="609" width="1" height="33" fill="#c0c0c0"/>
<rect x="1186" y="606" width="1" height="36" fill="#c0c0c0"/>
<rect x="1194" y="604" width="1" height="38" fill="#c0c0c0"/>
<rect x="1202" y="600" width="1" height="42" fill="#c0c0c0"/>
<rect x="1210" y="595" width="1" height="47" fill="#c0c0c0"/>
<rect x="1218" y="594" width="1" height="48" fill="#c0c0c0"/>
<rect x="1226" y="592" width="1" height="50" fill="#c0c0c0"/>
<rect x="1234" y="590" width="1" height="52" fill="#c0c0c0"/>
<rect x="1242" y="590" width="1" height="52" fill="#c0c0c0"/>
<rect x="1250" y="591" width="1" height="51" fill="#c0c0c0"/>
<rect x="1258" y="593" width="1" height="49" fill="#c0c0c0"/>
<rect x="1266" y="600" width="1" height="42" fill="#c0c0c0"/>
<rect x="1274" y="604" width="1" height="38" fill="#c0c0c0"/>
<rect x="1282" y="610" width="1" height="32" fill="#c0c0c0"/>
<rect x="1290" y="613" width="1" height="29" fill="#c0c0c0"/>
<rect x="1298" y="614" width="1" height="28" fill="#c0c0c0"/>
<rect x="1306" y="616" width="1" height="26" fill="#c0c0c0"/>
<rect x="1314" y="618" width="1" height="24" fill="#c0c0c0"/>
<rect x="1322" y="620" width="1" height="22" fill="#c0c0c0"/>
<rect x="1330" y="621" width="1" height="21" fill="#c0c0c0"/>
<rect x="1338" y="622" width="1" height="20" fill="#c0c0c0"/>
<rect x="1346" y="623" width="1" height="19" fill="#c0c0c0"/>
<rect x="1354" y="624" width="1" height="18" fill="#c0c0c0"/>
<rect x="1362" y="625" width="1" height="17" fill="#c0c0c0"/>
<rect x="1370" y="627" width="1" height="15" fill="#c0c0c0"/>
<rect x="1378" y="629" width="1" height="13" fill="#c0c0c0"/>
<rect x="1386" y="630" width="1" height="12" fill="#c0c0c0"/>
<rect x="1394" y="631" width="1" height="11" fill="#c0c0c0"/>
<rect x="1402" y="632" width="1" height="10" fill="#c0c0c0"/>
<rect x="1410" y="633" width="1" height="9" fill="#c0c0c0"/>
<rect x="1418" y="634" width="1" height="8" fill="#c0c0c0"/>
<rect x="1426" y="635" width="1" height="7" fill="#c0c0c0"/>
<rect x="1434" y="634" width="1" height="8" fill="#c0c0c0"/>
<polyline points="0.5,635.0 25.5,633.0 50.5,631.0 83.0,629.2 113.0,629.2 140.5,631.0 163.0,633.5 180.5,636.8 195.5,639.2 210.5,641.2 225.5,642.5 243.0,642.0 255.5,641.0 265.5,639.2 278.0,637.5 290.5,636.0 300.5,635.0 313.0,634.5 323.0,635.0 335.5,636.8 345.5,638.0 355.5,640.0 365.5,642.5 375.5,645.0 385.5,647.5 395.5,649.5 405.5,650.2 418.0,649.8 433.5,648.0 443.5,645.0 456.0,642.5 471.0,640.5 483.5,640.2 508.5,640.2 516.0,642.0 528.5,644.2 546.0,648.0 558.5,654.2 571.0,661.8 583.5,668.0 596.0,674.2 608.5,679.2 621.0,685.5 633.5,690.5 646.0,696.8 658.5,704.2 671.0,714.2 683.5,723.0 696.0,730.0 706.0,734.2 716.0,736.0 726.0,735.0 733.5,730.5 746.0,723.5 758.5,714.2 771.0,703.0 783.5,691.8 788.5,688.0 801.0,680.5 813.5,676.8 828.5,670.5 846.0,661.8 858.5,656.0 866.5,652.5 879.0,645.5 891.5,640.0 906.5,636.8 921.5,634.8 936.5,632.5 954.0,632.0 971.5,631.2 979.0,629.8 1004.0,629.5 1041.5,629.5 1061.5,628.8 1079.0,628.0 1091.5,626.5 1104.0,625.5 1116.5,624.5 1131.5,624.0 1146.5,623.2 1159.0,621.8 1169.0,619.2 1181.5,616.8 1194.0,614.2 1204.0,609.8 1219.0,606.0 1226.5,602.2 1236.5,599.2 1244.0,596.8 1256.5,594.2 1266.5,593.5 1279.0,594.2 1289.0,596.8 1299.5,599.2 1316.7,605.3 1332.9,612.6 1349.1,616.7 1365.3,619.5 1389.6,622.8 1405.8,626.0 1422.0,629.6 1434.5,630.9" fill="none" stroke="#ff0000" stroke-width="1" stroke-dasharray="3,3"/>
<line x1="0" y1="787.5" x2="1685" y2="787.5" stroke="#c0c0c0" stroke-width="1" stroke-dasharray="3,3"/>
<line x1="0" y1="838.5" x2="1685" y2="838.5" stroke="#c0c0c0" stroke-width="1" stroke-dasharray="3,3"/>
<line x1="0" y1="899.5" x2="1685" y2="899.5" stroke="#c0c0c0" stroke-width="1" stroke-dasharray="3,3"/>
<polyline points="-5.5,832.5 2.5,832.0 10.5,830.8 18.5,808.2 26.5,809.5 34.5,808.2 42.5,803.2 50.5,808.2 58.5,818.0 66.5,818.2 74.5,821.5 82.5,819.5 90.5,824.2 98.5,826.2 106.5,830.5 114.5,818.2 122.5,829.0 130.5,831.2 138.5,851.5 146.5,850.0 154.5,845.5 162.5,833.8 170.5,852.0 178.5,856.2 186.5,854.2 194.5,860.0 202.5,838.0 210.5,829.2 218.5,831.5 226.5,830.0 234.5,820.5 242.5,824.2 250.5,822.5 258.5,816.5 266.5,821.2 274.5,819.2 282.5,820.5 290.5,835.5 298.5,835.5 306.5,833.2 314.5,845.0 322.5,860.0 330.5,867.5 338.5,857.5 346.5,858.5 354.5,863.0 362.5,876.5 370.5,872.0 378.5,865.8 386.5,843.8 394.5,830.5 402.5,821.5 410.5,830.8 418.5,834.5 426.5,831.2 434.5,827.5 442.5,827.5 450.5,835.5 458.5,841.2 466.5,841.5 474.5,845.5 482.5,848.5 490.5,833.2 498.5,843.8 506.5,852.5 514.5,862.5 522.5,871.2 530.5,872.5 538.5,873.2 546.5,887.5 554.5,895.2 562.5,885.0 570.5,860.2 578.5,870.5 586.5,858.5 594.5,864.5 602.5,872.0 610.5,876.2 618.5,881.2 626.5,876.2 634.5,882.0 642.5,894.2 650.5,873.2 658.5,876.8 666.5,882.5 674.5,874.2 682.5,874.2 690.5,870.5 698.5,871.5 706.5,876.2 714.5,859.2 722.5,842.5 730.5,842.2 738.5,838.2 746.5,844.5 754.5,844.5 762.5,837.5 770.5,845.0 778.5,851.5 786.5,851.5 794.5,853.5 802.5,851.5 810.5,835.5 818.5,835.5 826.5,831.5 834.5,828.5 842.5,831.5 850.5,833.5 858.5,835.5 866.5,829.5 874.5,834.5 882.5,827.5 890.5,829.2 898.5,829.5 906.5,832.5 914.5,839.2 922.5,836.5 930.5,835.5 938.5,832.5 946.5,832.2 954.5,825.5 962.5,822.5 970.5,815.5 978.5,826.2 986.5,836.2 994.5,842.5 1002.5,838.2 1010.5,834.2 1018.5,838.2 1026.5,827.0 1034.5,822.5 1042.5,820.0 1050.5,818.2 1058.5,828.2 1066.5,827.5 1074.5,826.2 1082.5,830.2 1090.5,828.2 1098.5,816.5 1106.5,823.2 1114.5,817.5 1122.5,822.2 1130.5,822.5 1138.5,819.5 1146.5,813.5 1154.5,808.8 1162.5,800.5 1170.5,799.2 1178.5,796.5 1186.5,797.2 1194.5,793.5 1202.5,786.2 1210.5,784.2 1218.5,797.0 1226.5,790.5 1234.5,790.2 1242.5,792.5 1250.5,803.0 1258.5,809.2 1266.5,834.2 1274.5,829.5 1282.5,832.5 1290.5,831.2 1298.5,822.5 1306.5,826.4 1314.5,823.2 1322.5,829.2 1330.5,829.2 1338.5,821.1 1346.5,825.2 1354.5,834.5 1362.5,829.2 1370.5,834.1 1378.5,835.3 1386.5,830.0 1394.5,832.0 1402.5,838.5 1410.5,835.3 1418.5,837.3 1426.5,834.1 1434.5,824.0" fill="none" stroke="#1e90ff" stroke-width="1"/>
<rect x="1391" y="160" width="86" height="7" fill="#00f000"/>
<rect x="1515" y="161" width="8" height="1" fill="#ff0000"/>
<rect x="1522" y="159" width="3" height="5" fill="#ff0000"/>
<rect x="1523" y="160" width="1" height="3" fill="#fff"/>
<rect x="1525" y="149" width="74" height="25" fill="#ff0000"/>
<rect x="1526" y="150" width="72" height="23" fill="#fff"/>
<rect x="1686" y="46" width="2" height="1" fill="#000"/>
<rect x="1686" y="79" width="2" height="1" fill="#000"/>
<rect x="1686" y="112" width="2" height="1" fill="#000"/>
<rect x="1686" y="145" width="2" height="1" fill="#000"/>
<rect x="1686" y="178" width="2" height="1" fill="#000"/>
<rect x="1686" y="211" width="2" height="1" fill="#000"/>
<rect x="1686" y="244" width="2" height="1" fill="#000"/>
<rect x="1686" y="277" width="2" height="1" fill="#000"/>
<rect x="1686" y="310" width="2" height="1" fill="#000"/>
<rect x="1686" y="343" width="2" height="1" fill="#000"/>
<rect x="1686" y="376" width="2" height="1" fill="#000"/>
<rect x="1686" y="409" width="2" height="1" fill="#000"/>
<rect x="1686" y="442" width="2" height="1" fill="#000"/>
<rect x="1686" y="475" width="2" height="1" fill="#000"/>
<rect x="1686" y="508" width="2" height="1" fill="#000"/>
<rect x="1686" y="541" width="2" height="1" fill="#000"/>
<rect x="1686" y="574" width="2" height="1" fill="#000"/>
<rect x="1680" y="99" width="5" height="5" fill="#ff0000"/>
<rect x="1681" y="100" width="3" height="3" fill="#fff"/>
<rect x="1680" y="120" width="5" height="5" fill="#ff0000"/>
<rect x="1681" y="121" width="3" height="3" fill="#fff"/>
<rect x="1686" y="581" width="2" height="1" fill="#000"/>
<rect x="1686" y="641" width="2" height="1" fill="#000"/>
<rect x="1686" y="748" width="2" height="1" fill="#000"/>
<rect x="1686" y="753" width="2" height="1" fill="#000"/>
<rect x="1686" y="787" width="2" height="1" fill="#000"/>
<rect x="1686" y="838" width="2" height="1" fill="#000"/>
<rect x="1686" y="899" width="2" height="1" fill="#000"/>
<rect x="1686" y="922" width="2" height="1" fill="#000"/>
<rect x="58" y="926" width="1" height="3" fill="#000"/>
<rect x="122" y="926" width="1" height="3" fill="#000"/>
<rect x="186" y="926" width="1" height="3" fill="#000"/>
<rect x="250" y="926" width="1" height="3" fill="#000"/>
<rect x="314" y="926" width="1" height="3" fill="#000"/>
<rect x="378" y="926" width="1" height="3" fill="#000"/>
<rect x="442" y="926" width="1" height="3" fill="#000"/>
<rect x="506" y="926" width="1" height="3" fill="#000"/>
<rect x="570" y="926" width="1" height="3" fill="#000"/>
<rect x="634" y="926" width="1" height="3" fill="#000"/>
<rect x="698" y="926" width="1" height="3" fill="#000"/>
<rect x="762" y="926" width="1" height="3" fill="#000"/>
<rect x="826" y="926" width="1" height="3" fill="#000"/>
<rect x="890" y="926" width="1" height="3" fill="#000"/>
<rect x="954" y="926" width="1" height="3" fill="#000"/>
<rect x="1018" y="926" width="1" height="3" fill="#000"/>
<rect x="1082" y="926" width="1" height="3" fill="#000"/>
<rect x="1146" y="926" width="1" height="3" fill="#000"/>
<rect x="1210" y="926" width="1" height="3" fill="#000"/>
<rect x="1274" y="926" width="1" height="3" fill="#000"/>
<rect x="1338" y="926" width="1" height="3" fill="#000"/>
<rect x="1402" y="926" width="1" height="3" fill="#000"/>
</svg>
<svg width="1732" height="941" viewBox="0 0 1732 941">
<line x1="1296.5" y1="209" x2="1319" y2="136.5" stroke="#ff0000" stroke-width="2.9" stroke-linecap="butt"/>
<polygon points="1319.0,136.5 1320.8,147.5 1311.3,144.6" fill="#ff0000"/>
<line x1="1319" y1="136.5" x2="1406.5" y2="186" stroke="#ff0000" stroke-width="2.9" stroke-linecap="butt"/>
<polygon points="1406.5,186.0 1395.3,185.4 1400.3,176.7" fill="#ff0000"/>
<line x1="1406.5" y1="186" x2="1462" y2="138.5" stroke="#ff0000" stroke-width="2.9" stroke-linecap="butt"/>
<polygon points="1462.0,138.5 1457.7,148.8 1451.2,141.2" fill="#ff0000"/>
<text x="1490" y="205" font-size="22" fill="#00ff00" font-family="'Liberation Sans','Noto Sans CJK SC',sans-serif">多空转折点</text>
<polygon points="0,31 0,35 4.5,35" fill="#000"/>
</svg>
<div class="t" style="left:1527px;top:150px;font-size:22px;line-height:22px;color:#ff0000;letter-spacing:0;transform-origin:0 0;transform:scaleX(0.876)">22325.4</div>
<div class="t" style="left:1691px;top:41.54px;font-size:10px;line-height:10px;color:#000;letter-spacing:-0.5px;font-weight:normal;">24187.0</div>
<div class="t" style="left:1691px;top:74.53999999999999px;font-size:10px;line-height:10px;color:#000;letter-spacing:-0.5px;font-weight:normal;">23643.0</div>
<div class="t" style="left:1691px;top:107.53999999999999px;font-size:10px;line-height:10px;color:#000;letter-spacing:-0.5px;font-weight:normal;">23115.0</div>
<div class="t" style="left:1691px;top:140.54px;font-size:10px;line-height:10px;color:#000;letter-spacing:-0.5px;font-weight:normal;">22587.0</div>
<div class="t" style="left:1691px;top:173.54px;font-size:10px;line-height:10px;color:#000;letter-spacing:-0.5px;font-weight:normal;">22059.0</div>
<div class="t" style="left:1691px;top:206.54px;font-size:10px;line-height:10px;color:#000;letter-spacing:-0.5px;font-weight:normal;">21531.0</div>
<div class="t" style="left:1691px;top:239.54px;font-size:10px;line-height:10px;color:#000;letter-spacing:-0.5px;font-weight:normal;">20987.0</div>
<div class="t" style="left:1691px;top:272.54px;font-size:10px;line-height:10px;color:#000;letter-spacing:-0.5px;font-weight:normal;">20459.0</div>
<div class="t" style="left:1691px;top:305.54px;font-size:10px;line-height:10px;color:#000;letter-spacing:-0.5px;font-weight:normal;">19931.0</div>
<div class="t" style="left:1691px;top:338.54px;font-size:10px;line-height:10px;color:#000;letter-spacing:-0.5px;font-weight:normal;">19403.0</div>
<div class="t" style="left:1691px;top:371.54px;font-size:10px;line-height:10px;color:#000;letter-spacing:-0.5px;font-weight:normal;">18875.0</div>
<div class="t" style="left:1691px;top:404.54px;font-size:10px;line-height:10px;color:#000;letter-spacing:-0.5px;font-weight:normal;">18331.0</div>
<div class="t" style="left:1691px;top:437.54px;font-size:10px;line-height:10px;color:#000;letter-spacing:-0.5px;font-weight:normal;">17803.0</div>
<div class="t" style="left:1691px;top:470.54px;font-size:10px;line-height:10px;color:#000;letter-spacing:-0.5px;font-weight:normal;">17275.0</div>
<div class="t" style="left:1691px;top:503.54px;font-size:10px;line-height:10px;color:#000;letter-spacing:-0.5px;font-weight:normal;">16747.0</div>
<div class="t" style="left:1691px;top:536.54px;font-size:10px;line-height:10px;color:#000;letter-spacing:-0.5px;font-weight:normal;">16219.0</div>
<div class="t" style="left:1691px;top:569.54px;font-size:10px;line-height:10px;color:#000;letter-spacing:-0.5px;font-weight:normal;">15691.0</div>
<div class="t" style="left:1687px;top:95px;width:41px;height:11px;background:#ff0000"></div>
<div class="t" style="left:1691px;top:95.53999999999999px;font-size:10px;line-height:10px;color:#fff;letter-spacing:-0.5px;font-weight:normal;">23289.2</div>
<div class="t" style="left:1687px;top:116px;width:41px;height:11px;background:#ff0000"></div>
<div class="t" style="left:1691px;top:116.53999999999999px;font-size:10px;line-height:10px;color:#fff;letter-spacing:-0.5px;font-weight:normal;">22951.8</div>
<div class="t" style="left:1687px;top:155px;width:41px;height:11px;background:#32cd32"></div>
<div class="t" style="left:1691px;top:155.54px;font-size:10px;line-height:10px;color:#fff;letter-spacing:-0.5px;font-weight:normal;">22325.4</div>
<div class="t" style="left:1687px;top:178px;width:41px;height:11px;background:#0000ff"></div>
<div class="t" style="left:1691px;top:178.54px;font-size:10px;line-height:10px;color:#fff;letter-spacing:-0.5px;font-weight:normal;">21955.9</div>
<div class="t" style="left:1687px;top:201px;width:41px;height:11px;background:#0000ff"></div>
<div class="t" style="left:1691px;top:201.54px;font-size:10px;line-height:10px;color:#fff;letter-spacing:-0.5px;font-weight:normal;">21586.5</div>
<div class="t" style="left:1687px;top:138px;width:41px;height:11px;background:#000000"></div>
<div class="t" style="left:1691px;top:138.54px;font-size:10px;line-height:10px;color:#fff;letter-spacing:-0.5px;font-weight:normal;">22622.5</div>
<div class="t" style="left:1689px;top:581.54px;font-size:10px;line-height:10px;color:#000;letter-spacing:-0.5px;font-weight:normal;">931.89</div>
<div class="t" style="left:1691px;top:636.54px;font-size:10px;line-height:10px;color:#000;letter-spacing:-0.5px;font-weight:normal;">0.00</div>
<div class="t" style="left:1689px;top:738.54px;font-size:10px;line-height:10px;color:#000;letter-spacing:-0.5px;font-weight:normal;">-1667.31</div>
<div class="t" style="left:1689px;top:754.54px;font-size:10px;line-height:10px;color:#000;letter-spacing:-0.5px;font-weight:normal;">100</div>
<div class="t" style="left:1691px;top:782.54px;font-size:10px;line-height:10px;color:#000;letter-spacing:-0.5px;font-weight:normal;">80</div>
<div class="t" style="left:1691px;top:833.54px;font-size:10px;line-height:10px;color:#000;letter-spacing:-0.5px;font-weight:normal;">50</div>
<div class="t" style="left:1691px;top:894.54px;font-size:10px;line-height:10px;color:#000;letter-spacing:-0.5px;font-weight:normal;">15</div>
<div class="t" style="left:1691px;top:913.54px;font-size:10px;line-height:10px;color:#000;letter-spacing:-0.5px;font-weight:normal;">0</div>
<div class="t" style="left:-7px;top:930.04px;font-size:10px;line-height:10px;color:#000;letter-spacing:-0.5px;font-weight:normal;">9 Dec 2019</div>
<div class="t" style="left:57px;top:930.04px;font-size:10px;line-height:10px;color:#000;letter-spacing:-0.5px;font-weight:normal;">18 Dec 2019</div>
<div class="t" style="left:121px;top:930.04px;font-size:10px;line-height:10px;color:#000;letter-spacing:-0.5px;font-weight:normal;">27 Dec 2019</div>
<div class="t" style="left:185px;top:930.04px;font-size:10px;line-height:10px;color:#000;letter-spacing:-0.5px;font-weight:normal;">6 Jan 2020</div>
<div class="t" style="left:249px;top:930.04px;font-size:10px;line-height:10px;color:#000;letter-spacing:-0.5px;font-weight:normal;">15 Jan 2020</div>
<div class="t" style="left:313px;top:930.04px;font-size:10px;line-height:10px;color:#000;letter-spacing:-0.5px;font-weight:normal;">24 Jan 2020</div>
<div class="t" style="left:377px;top:930.04px;font-size:10px;line-height:10px;color:#000;letter-spacing:-0.5px;font-weight:normal;">3 Feb 2020</div>
<div class="t" style="left:441px;top:930.04px;font-size:10px;line-height:10px;color:#000;letter-spacing:-0.5px;font-weight:normal;">12 Feb 2020</div>
<div class="t" style="left:505px;top:930.04px;font-size:10px;line-height:10px;color:#000;letter-spacing:-0.5px;font-weight:normal;">21 Feb 2020</div>
<div class="t" style="left:569px;top:930.04px;font-size:10px;line-height:10px;color:#000;letter-spacing:-0.5px;font-weight:normal;">2 Mar 2020</div>
<div class="t" style="left:633px;top:930.04px;font-size:10px;line-height:10px;color:#000;letter-spacing:-0.5px;font-weight:normal;">11 Mar 2020</div>
<div class="t" style="left:697px;top:930.04px;font-size:10px;line-height:10px;color:#000;letter-spacing:-0.5px;font-weight:normal;">20 Mar 2020</div>
<div class="t" style="left:761px;top:930.04px;font-size:10px;line-height:10px;color:#000;letter-spacing:-0.5px;font-weight:normal;">30 Mar 2020</div>
<div class="t" style="left:825px;top:930.04px;font-size:10px;line-height:10px;color:#000;letter-spacing:-0.5px;font-weight:normal;">8 Apr 2020</div>
<div class="t" style="left:889px;top:930.04px;font-size:10px;line-height:10px;color:#000;letter-spacing:-0.5px;font-weight:normal;">17 Apr 2020</div>
<div class="t" style="left:953px;top:930.04px;font-size:10px;line-height:10px;color:#000;letter-spacing:-0.5px;font-weight:normal;">27 Apr 2020</div>
<div class="t" style="left:1017px;top:930.04px;font-size:10px;line-height:10px;color:#000;letter-spacing:-0.5px;font-weight:normal;">6 May 2020</div>
<div class="t" style="left:1081px;top:930.04px;font-size:10px;line-height:10px;color:#000;letter-spacing:-0.5px;font-weight:normal;">15 May 2020</div>
<div class="t" style="left:1145px;top:930.04px;font-size:10px;line-height:10px;color:#000;letter-spacing:-0.5px;font-weight:normal;">25 May 2020</div>
<div class="t" style="left:1209px;top:930.04px;font-size:10px;line-height:10px;color:#000;letter-spacing:-0.5px;font-weight:normal;">3 Jun 2020</div>
<div class="t" style="left:1273px;top:930.04px;font-size:10px;line-height:10px;color:#000;letter-spacing:-0.5px;font-weight:normal;">12 Jun 2020</div>
<div class="t" style="left:1337px;top:930.04px;font-size:10px;line-height:10px;color:#000;letter-spacing:-0.5px;font-weight:normal;">22 Jun 2020</div>
<div class="t" style="left:1401px;top:930.04px;font-size:10px;line-height:10px;color:#000;letter-spacing:-0.5px;font-weight:normal;">1 Jul 2020</div>
<div class="t" style="left:9px;top:27.54px;font-size:10px;line-height:10px;color:#000;letter-spacing:-0.34px;font-weight:normal;">JPN225-,Daily&nbsp; 22277.5 22732.5 22272.5 22622.5</div>
<div class="t" style="left:-2px;top:583.54px;font-size:10px;line-height:10px;color:#000;letter-spacing:-0.33px;font-weight:normal;">MACD(12,26,9) 123.94 154.94</div>
<div class="t" style="left:-3px;top:755.54px;font-size:10px;line-height:10px;color:#000;letter-spacing:-0.33px;font-weight:normal;">RSI(14) 59.1563</div>
<svg width="1732" height="941" viewBox="0 0 1732 941" shape-rendering="crispEdges">
<defs>
<linearGradient id="gb" x1="0" y1="0" x2="0" y2="1"><stop offset="0" stop-color="#fa5151"/><stop offset="1" stop-color="#de2c2c"/></linearGradient>
<linearGradient id="gp" x1="0" y1="0" x2="0" y2="1"><stop offset="0" stop-color="#dc2c2c"/><stop offset="0.5" stop-color="#c81818"/><stop offset="1" stop-color="#ae0000"/></linearGradient>
<linearGradient id="gg" x1="0" y1="0" x2="0" y2="1"><stop offset="0" stop-color="#f0f0f0"/><stop offset="0.45" stop-color="#e6e6e6"/><stop offset="0.5" stop-color="#d6d6d6"/><stop offset="1" stop-color="#cccccc"/></linearGradient>
</defs>
<rect x="0" y="42" width="218" height="68" fill="#fff"/>
<rect x="0" y="44" width="49" height="24" fill="#c40a0a"/>
<rect x="0" y="45" width="48" height="23" fill="url(#gb)"/>
<rect x="164" y="44" width="52" height="24" fill="#c40a0a"/>
<rect x="165" y="45" width="50" height="23" fill="url(#gb)"/>
<rect x="0" y="68" width="106" height="40" fill="url(#gp)"/>
<rect x="108" y="68" width="108" height="40" fill="url(#gp)"/>
<rect x="0" y="68" width="49" height="1" fill="#dc2c2c"/>
<rect x="164" y="68" width="52" height="1" fill="#dc2c2c"/>
<rect x="1" y="67" width="44" height="1" fill="#8e0000"/>
<rect x="1" y="68" width="44" height="1" fill="#f06a6a"/>
<rect x="168" y="67" width="44" height="1" fill="#8e0000"/>
<rect x="168" y="68" width="44" height="1" fill="#f06a6a"/>
<rect x="51" y="44" width="111" height="22" fill="#a9afbd"/>
<rect x="52" y="45" width="109" height="20" fill="#fff"/>
<rect x="52" y="45" width="20" height="20" fill="#f4f4f4"/>
<rect x="53" y="46" width="18" height="18" fill="url(#gg)"/>
<rect x="72" y="45" width="1" height="20" fill="#a9afbd"/>
<rect x="141" y="45" width="20" height="20" fill="#f4f4f4"/>
<rect x="142" y="46" width="18" height="18" fill="url(#gg)"/>
<rect x="140" y="45" width="1" height="20" fill="#a9afbd"/>
</svg>
<svg width="1732" height="941" viewBox="0 0 1732 941">
<polygon points="58.5,53 64.5,53 61.5,56.5" fill="#4a5fc8"/>
<polygon points="147.5,56.5 153.5,56.5 150.5,53" fill="#4a5fc8"/>
<rect x="52.3" y="93.8" width="4.5" height="5.1" rx="0.8" fill="#fff"/>
<rect x="163.2" y="93.8" width="4.5" height="5.1" rx="0.8" fill="#fff"/>
<ellipse cx="67.2" cy="87.1" rx="7.2" ry="11.3" fill="none" stroke="#fff" stroke-width="2"/>
<ellipse cx="178.2" cy="87.1" rx="7.2" ry="11.3" fill="none" stroke="#fff" stroke-width="2"/>
<rect x="-8" y="1.5" width="16.5" height="13" rx="1.5" fill="#fff" stroke="#3f7fd8" stroke-width="1.2"/>
<rect shape-rendering="crispEdges" x="0" y="4" width="7" height="1" fill="#cfdcf8"/>
<rect shape-rendering="crispEdges" x="0" y="6" width="7" height="1" fill="#cfdcf8"/>
<rect shape-rendering="crispEdges" x="0" y="8" width="7" height="1" fill="#cfdcf8"/>
<rect shape-rendering="crispEdges" x="0" y="10" width="7" height="1" fill="#cfdcf8"/>
<rect x="21.7" y="-1" width="11.8" height="14.2" fill="#fdfdfd" stroke="#b4ac98" stroke-width="1"/>
<path d="M24,5 h3 M25.5,2 v7 M30,4 h2 M31,1 v7" stroke="#8c8c8c" stroke-width="1" fill="none"/>
<line x1="33.5" y1="12.7" x2="37.6" y2="16.6" stroke="#c8960c" stroke-width="2.6"/>
<circle cx="29.5" cy="8.8" r="5" fill="#cfe0f4" fill-opacity="0.85" stroke="#5a8ad8" stroke-width="1.1"/>
<rect x="27.5" y="5.5" width="3" height="5.5" fill="#9fb4cc" fill-opacity="0.8"/>
<rect shape-rendering="crispEdges" x="46" y="0" width="1" height="18" fill="#a0a0a0"/>
<path d="M56.5,-1 h7.5 l4,4 v10.0 h-11.5 z" fill="#fff" stroke="#8c8c8c" stroke-width="1"/>
<path d="M58.5,2.5 h3 M58.5,6.5 h5 M58.5,9 h4" stroke="#9a9a9a" stroke-width="1.2"/>
<path d="M64.7,6.6 h3.2 v3.8 h3.8 v3.2 h-3.8 v3.8 h-3.2 v-3.8 h-3.8 v-3.2 h3.8 z" fill="#33d633" stroke="#0c8f0c" stroke-width="0.8" stroke-linejoin="miter"/>
<path d="M65.39999999999999,7.4 v3.7 h-3.7" fill="none" stroke="#9af09a" stroke-width="0.8"/>
<path d="M123.2,8.8 L132,13.8 L138.8,8.2 L138.8,10 L132.2,15.8 L123.2,10.6 Z" fill="#b8820e" stroke="#9a640c" stroke-width="0.6"/>
<path d="M127.5,1.2 L138.8,8.2 L132,13.8 L123.2,8.8 Z" fill="#ecc028" stroke="#a86c10" stroke-width="0.8"/>
<path d="M127.8,2.6 L136.8,8.2 L132,12.2 L125,8.6 Z" fill="#f8de58" fill-opacity="0.75"/>
<path d="M124,9.9 L132,14.6 L138.3,9.3" fill="none" stroke="#f4e090" stroke-width="0.7"/>
<path d="M153.5,0 L160,-1 L164.5,1.5 L164.5,9 L158,10 L153.5,8 Z" fill="#2f8ff0" stroke="#1c68c8" stroke-width="0.8"/>
<rect x="157.5" y="3" width="6" height="2.4" fill="#cfe4ff"/><rect x="157.5" y="6.3" width="6" height="1.2" fill="#9cc8ff"/>
<path d="M154,15.3 a3.2,3.2 0 0 1 0.4,-6.3 a3.6,3.6 0 0 1 6.6,-0.8 a3,3 0 0 1 3.5,1.4 a2.9,2.9 0 0 1 -0.4,5.7 z" fill="#e4ecfa" stroke="#6a86c4" stroke-width="1"/>
<path d="M187,7.6 L187,15.6 A8,8 0 0 0 194.7,9.5 Z" fill="#9ccc9c"/>
<path d="M187,10.6 A3,3 0 0 1 187,4.6" fill="none" stroke="#3a6ad0" stroke-opacity="1" stroke-width="1.2"/>
<path d="M187,4.6 A3,3 0 0 1 190,7.6" fill="none" stroke="#6aa080" stroke-opacity="1" stroke-width="1.2"/>
<path d="M190,7.6 A3,3 0 0 1 187,10.6" fill="none" stroke="#58a058" stroke-opacity="1" stroke-width="1.2"/>
<path d="M187,13.1 A5.5,5.5 0 0 1 187,2.0999999999999996" fill="none" stroke="#3a6ad0" stroke-opacity="0.8" stroke-width="1.2"/>
<path d="M187,2.0999999999999996 A5.5,5.5 0 0 1 192.5,7.6" fill="none" stroke="#6aa080" stroke-opacity="0.8" stroke-width="1.2"/>
<path d="M192.5,7.6 A5.5,5.5 0 0 1 187,13.1" fill="none" stroke="#58a058" stroke-opacity="0.8" stroke-width="1.2"/>
<path d="M187,15.6 A8,8 0 0 1 187,-0.40000000000000036" fill="none" stroke="#3a6ad0" stroke-opacity="0.55" stroke-width="1.2"/>
<path d="M187,-0.40000000000000036 A8,8 0 0 1 195,7.6" fill="none" stroke="#6aa080" stroke-opacity="0.55" stroke-width="1.2"/>
<path d="M195,7.6 A8,8 0 0 1 187,15.6" fill="none" stroke="#58a058" stroke-opacity="0.55" stroke-width="1.2"/>
<circle cx="187" cy="7.4" r="1.6" fill="#2858c8"/>
<rect x="186.4" y="8" width="1.6" height="7.6" fill="#28a028"/>
<path d="M207,6.5 L221.5,6.5 L214.5,15.6 Z" fill="#f6cf3c" stroke="#d8a820" stroke-width="0.8"/>
<ellipse cx="214" cy="4" rx="8" ry="3" fill="#52a4e2"/><ellipse cx="214" cy="1.5" rx="4" ry="3.2" fill="#6ab4ea"/>
<circle cx="218.6" cy="11.7" r="4" fill="#e01c1c"/><rect x="217" y="10.2" width="3.2" height="3.2" fill="#fff"/>
<rect shape-rendering="crispEdges" x="282" y="0" width="1" height="20" fill="#a0a0a0"/>
<rect shape-rendering="crispEdges" x="286" y="0" width="3" height="1" fill="#b4b4b4"/>
<rect shape-rendering="crispEdges" x="286" y="2" width="3" height="1" fill="#b4b4b4"/>
<rect shape-rendering="crispEdges" x="286" y="4" width="3" height="1" fill="#b4b4b4"/>
<rect shape-rendering="crispEdges" x="286" y="6" width="3" height="1" fill="#b4b4b4"/>
<rect shape-rendering="crispEdges" x="286" y="8" width="3" height="1" fill="#b4b4b4"/>
<rect shape-rendering="crispEdges" x="286" y="10" width="3" height="1" fill="#b4b4b4"/>
<rect shape-rendering="crispEdges" x="286" y="12" width="3" height="1" fill="#b4b4b4"/>
<rect shape-rendering="crispEdges" x="286" y="14" width="3" height="1" fill="#b4b4b4"/>
<rect shape-rendering="crispEdges" x="286" y="16" width="3" height="1" fill="#b4b4b4"/>
<rect shape-rendering="crispEdges" x="300" y="2" width="1" height="14" fill="#555555"/>
<rect shape-rendering="crispEdges" x="298" y="13" width="14" height="1" fill="#555555"/>
<polygon points="298.8,5 300.5,1.5 302.2,5" fill="#555555"/>
<polygon points="309,11.8 312.5,13.5 309,15.2" fill="#555555"/>
<rect shape-rendering="crispEdges" x="306" y="3" width="1" height="8" fill="#10a010"/><rect shape-rendering="crispEdges" x="306" y="4" width="3" height="1" fill="#10a010"/><rect shape-rendering="crispEdges" x="304" y="10" width="3" height="1" fill="#10a010"/>
<rect shape-rendering="crispEdges" x="320" y="0" width="1" height="18" fill="#a0a0a0"/>
<rect shape-rendering="crispEdges" x="321" y="0" width="24" height="18" fill="#f9f9f9"/>
<rect shape-rendering="crispEdges" x="328" y="2" width="1" height="14" fill="#555555"/>
<rect shape-rendering="crispEdges" x="326" y="13" width="14" height="1" fill="#555555"/>
<polygon points="326.8,5 328.5,1.5 330.2,5" fill="#555555"/>
<polygon points="337,11.8 340.5,13.5 337,15.2" fill="#555555"/>
<rect shape-rendering="crispEdges" x="334" y="0" width="1" height="12" fill="#109010"/>
<rect x="332.3" y="2.6" width="4.4" height="7" fill="#36e236" stroke="#10a010" stroke-width="1"/>
<rect shape-rendering="crispEdges" x="356" y="2" width="1" height="14" fill="#555555"/>
<rect shape-rendering="crispEdges" x="354" y="13" width="14" height="1" fill="#555555"/>
<polygon points="354.8,5 356.5,1.5 358.2,5" fill="#555555"/>
<polygon points="365,11.8 368.5,13.5 365,15.2" fill="#555555"/>
<path d="M355,10.8 C358,9 359.5,5.4 361.2,5.4 C363,5.4 364.5,8 366.8,9" fill="none" stroke="#209820" stroke-width="1.3"/>
<rect shape-rendering="crispEdges" x="377" y="0" width="1" height="18" fill="#a0a0a0"/>
<line x1="396" y1="10" x2="401.3" y2="15" stroke="#a88010" stroke-width="3.6"/>
<line x1="396.3" y1="10.3" x2="401" y2="14.7" stroke="#e4c838" stroke-width="2"/>
<circle cx="392" cy="5.7" r="5.6" fill="#d4e8fa" stroke="#3a78d8" stroke-width="1.3"/>
<rect x="389" y="5" width="6" height="1.5" fill="#3a80b4"/>
<rect x="391.25" y="2.7" width="1.5" height="6" fill="#3a80b4"/>
<line x1="424" y1="10" x2="429.3" y2="15" stroke="#a88010" stroke-width="3.6"/>
<line x1="424.3" y1="10.3" x2="429" y2="14.7" stroke="#e4c838" stroke-width="2"/>
<circle cx="420" cy="5.7" r="5.6" fill="#d4e8fa" stroke="#3a78d8" stroke-width="1.3"/>
<rect x="417" y="5" width="6" height="1.5" fill="#3a80b4"/>
<rect shape-rendering="crispEdges" x="442" y="0" width="8" height="8" fill="#44a424"/>
<rect shape-rendering="crispEdges" x="443" y="3" width="6" height="4" fill="#fff"/><rect shape-rendering="crispEdges" x="444" y="4" width="4" height="1" fill="#44a424" fill-opacity="0.6"/>
<rect shape-rendering="crispEdges" x="450" y="0" width="8" height="8" fill="#2c5cd4"/>
<rect shape-rendering="crispEdges" x="451" y="3" width="6" height="4" fill="#fff"/><rect shape-rendering="crispEdges" x="452" y="4" width="4" height="1" fill="#2c5cd4" fill-opacity="0.6"/>
<rect shape-rendering="crispEdges" x="442" y="8" width="8" height="8" fill="#2c5cd4"/>
<rect shape-rendering="crispEdges" x="443" y="11" width="6" height="4" fill="#fff"/><rect shape-rendering="crispEdges" x="444" y="12" width="4" height="1" fill="#2c5cd4" fill-opacity="0.6"/>
<rect shape-rendering="crispEdges" x="450" y="8" width="8" height="8" fill="#44a424"/>
<rect shape-rendering="crispEdges" x="451" y="11" width="6" height="4" fill="#fff"/><rect shape-rendering="crispEdges" x="452" y="12" width="4" height="1" fill="#44a424" fill-opacity="0.6"/>
<rect shape-rendering="crispEdges" x="467" y="0" width="1" height="18" fill="#a0a0a0"/>
<rect shape-rendering="crispEdges" x="472" y="0" width="1" height="18" fill="#a0a0a0"/>
<rect shape-rendering="crispEdges" x="473" y="0" width="25" height="18" fill="#f9f9f9"/>
<rect shape-rendering="crispEdges" x="480" y="2" width="1" height="14" fill="#555555"/>
<rect shape-rendering="crispEdges" x="478" y="13" width="14" height="1" fill="#555555"/>
<polygon points="478.8,5 480.5,1.5 482.2,5" fill="#555555"/>
<polygon points="489,11.8 492.5,13.5 489,15.2" fill="#555555"/>
<polygon points="485.3,4.2 485.3,10.6 489,7.4" fill="#3ee03e" stroke="#109010" stroke-width="0.9"/>
<rect shape-rendering="crispEdges" x="500" y="0" width="1" height="18" fill="#a0a0a0"/>
<rect shape-rendering="crispEdges" x="501" y="0" width="25" height="18" fill="#f9f9f9"/>
<rect shape-rendering="crispEdges" x="508" y="2" width="1" height="14" fill="#555555"/>
<rect shape-rendering="crispEdges" x="506" y="13" width="14" height="1" fill="#555555"/>
<polygon points="506.8,5 508.5,1.5 510.2,5" fill="#555555"/>
<polygon points="517,11.8 520.5,13.5 517,15.2" fill="#555555"/>
<rect shape-rendering="crispEdges" x="514" y="2" width="1" height="10" fill="#1878b0"/>
<path d="M515.5,7.4 L518.2,5.2 L518.2,6.8 L520,6.8 L520,8 L518.2,8 L518.2,9.6 Z" fill="#e05000"/>
<rect shape-rendering="crispEdges" x="529" y="0" width="1" height="18" fill="#a0a0a0"/>
<path d="M540.0,-1 h7.5 l4,4 v10.0 h-11.5 z" fill="#fff" stroke="#8c8c8c" stroke-width="1"/>
<path d="M543,3 c-1.5,0 -1.5,2 -1.5,3 s0,3 1.5,3" stroke="#5a5a40" stroke-width="1" fill="none"/>
<path d="M547.6999999999999,6.6 h3.2 v3.8 h3.8 v3.2 h-3.8 v3.8 h-3.2 v-3.8 h-3.8 v-3.2 h3.8 z" fill="#33d633" stroke="#0c8f0c" stroke-width="0.8" stroke-linejoin="miter"/>
<path d="M548.4,7.4 v3.7 h-3.7" fill="none" stroke="#9af09a" stroke-width="0.8"/>
<polygon points="560.8,6.7 566.8,6.7 563.8,10" fill="#000"/>
<circle cx="585" cy="8" r="7" fill="#fff" stroke="#1a6ad0" stroke-width="2.2"/>
<path d="M584.7,3.5 V8 H588" stroke="#303030" stroke-width="1.2" fill="none"/>
<path d="M585,2.2v1 M585,12.8v1 M579.5,8h1 M590,8h1" stroke="#9ab" stroke-width="0.9"/>
<polygon points="599.7,6.7 605.7,6.7 602.7,10" fill="#000"/>
<rect x="616.5" y="1.5" width="15" height="13" fill="#fff" stroke="#3a78d0" stroke-width="1"/>
<rect shape-rendering="crispEdges" x="617" y="2" width="14" height="2" fill="#4a88e0"/><rect shape-rendering="crispEdges" x="617" y="9" width="14" height="1" fill="#3a78d0"/>
<path d="M618.5,7.5 L620.5,7.5 L622,6 L623.5,5.5 L625,6.5 L627,6.5 L628.5,5.3 L630,5.3" stroke="#b02000" stroke-width="1.2" fill="none"/>
<path d="M619,12.5 L621,11.5 L622.5,12.3 L624.5,11 L626,10.5 L627.5,12 L629,12.6" stroke="#209020" stroke-width="1.2" fill="none"/>
<polygon points="638.5,6.7 644.5,6.7 641.5,10" fill="#000"/>
<rect shape-rendering="crispEdges" x="650" y="0" width="1" height="20" fill="#a0a0a0"/>
<rect shape-rendering="crispEdges" x="654" y="0" width="3" height="1" fill="#b4b4b4"/>
<rect shape-rendering="crispEdges" x="654" y="2" width="3" height="1" fill="#b4b4b4"/>
<rect shape-rendering="crispEdges" x="654" y="4" width="3" height="1" fill="#b4b4b4"/>
<rect shape-rendering="crispEdges" x="654" y="6" width="3" height="1" fill="#b4b4b4"/>
<rect shape-rendering="crispEdges" x="654" y="8" width="3" height="1" fill="#b4b4b4"/>
<rect shape-rendering="crispEdges" x="654" y="10" width="3" height="1" fill="#b4b4b4"/>
<rect shape-rendering="crispEdges" x="654" y="12" width="3" height="1" fill="#b4b4b4"/>
<rect shape-rendering="crispEdges" x="654" y="14" width="3" height="1" fill="#b4b4b4"/>
<rect shape-rendering="crispEdges" x="654" y="16" width="3" height="1" fill="#b4b4b4"/>
<rect shape-rendering="crispEdges" x="660" y="0" width="1" height="18" fill="#a0a0a0"/>
<rect shape-rendering="crispEdges" x="661" y="0" width="24" height="18" fill="#f9f9f9"/>
<path d="M668,1 L668,12.2 L670.5,9.8 L673,15.2 L675,14.2 L672.6,9 L676.2,8.7 Z" fill="#484848"/>
<rect shape-rendering="crispEdges" x="700" y="1" width="1" height="6" fill="#484848"/><rect shape-rendering="crispEdges" x="700" y="10" width="1" height="6" fill="#484848"/><rect shape-rendering="crispEdges" x="693" y="8" width="6" height="1" fill="#484848"/><rect shape-rendering="crispEdges" x="702" y="8" width="6" height="1" fill="#484848"/>
<rect shape-rendering="crispEdges" x="717" y="0" width="1" height="18" fill="#a0a0a0"/>
<rect shape-rendering="crispEdges" x="734" y="2" width="1" height="13" fill="#484848"/>
<rect shape-rendering="crispEdges" x="757" y="8" width="13" height="1" fill="#484848"/>
<line x1="784.8" y1="14.8" x2="797.2" y2="2.7" stroke="#484848" stroke-width="1.1"/>
<path d="M811,9.5 L819.5,2 M813,14.2 L824.5,5.5 M816.5,14.8 L825,8.2" stroke="#484848" stroke-width="1"/>
<path d="M813.5,13 L815,8 L817,11 L819,6 L821,9 L822.5,1 " stroke="#484848" stroke-width="1" fill="none"/>
<rect shape-rendering="crispEdges" x="822" y="12" width="1" height="5" fill="#303030"/><rect shape-rendering="crispEdges" x="822" y="12" width="4" height="1" fill="#303030"/><rect shape-rendering="crispEdges" x="822" y="14" width="3" height="1" fill="#303030"/><rect shape-rendering="crispEdges" x="822" y="16" width="4" height="1" fill="#303030"/>
<rect shape-rendering="crispEdges" x="840" y="1" width="1" height="1" fill="#484848"/>
<rect shape-rendering="crispEdges" x="842" y="1" width="1" height="1" fill="#484848"/>
<rect shape-rendering="crispEdges" x="844" y="1" width="1" height="1" fill="#484848"/>
<rect shape-rendering="crispEdges" x="846" y="1" width="1" height="1" fill="#484848"/>
<rect shape-rendering="crispEdges" x="848" y="1" width="1" height="1" fill="#484848"/>
<rect shape-rendering="crispEdges" x="850" y="1" width="1" height="1" fill="#484848"/>
<rect shape-rendering="crispEdges" x="852" y="1" width="1" height="1" fill="#484848"/>
<rect shape-rendering="crispEdges" x="840" y="4" width="1" height="1" fill="#484848"/>
<rect shape-rendering="crispEdges" x="842" y="4" width="1" height="1" fill="#484848"/>
<rect shape-rendering="crispEdges" x="844" y="4" width="1" height="1" fill="#484848"/>
<rect shape-rendering="crispEdges" x="846" y="4" width="1" height="1" fill="#484848"/>
<rect shape-rendering="crispEdges" x="848" y="4" width="1" height="1" fill="#484848"/>
<rect shape-rendering="crispEdges" x="850" y="4" width="1" height="1" fill="#484848"/>
<rect shape-rendering="crispEdges" x="852" y="4" width="1" height="1" fill="#484848"/>
<rect shape-rendering="crispEdges" x="840" y="8" width="1" height="1" fill="#484848"/>
<rect shape-rendering="crispEdges" x="842" y="8" width="1" height="1" fill="#484848"/>
<rect shape-rendering="crispEdges" x="844" y="8" width="1" height="1" fill="#484848"/>
<rect shape-rendering="crispEdges" x="846" y="8" width="1" height="1" fill="#484848"/>
<rect shape-rendering="crispEdges" x="848" y="8" width="1" height="1" fill="#484848"/>
<rect shape-rendering="crispEdges" x="850" y="8" width="1" height="1" fill="#484848"/>
<rect shape-rendering="crispEdges" x="852" y="8" width="1" height="1" fill="#484848"/>
<rect shape-rendering="crispEdges" x="840" y="12" width="1" height="1" fill="#484848"/>
<rect shape-rendering="crispEdges" x="842" y="12" width="1" height="1" fill="#484848"/>
<rect shape-rendering="crispEdges" x="844" y="12" width="1" height="1" fill="#484848"/>
<rect shape-rendering="crispEdges" x="846" y="12" width="1" height="1" fill="#484848"/>
<rect shape-rendering="crispEdges" x="848" y="12" width="1" height="1" fill="#484848"/>
<rect shape-rendering="crispEdges" x="850" y="12" width="1" height="5" fill="#303030"/><rect shape-rendering="crispEdges" x="850" y="12" width="4" height="1" fill="#303030"/><rect shape-rendering="crispEdges" x="850" y="14" width="3" height="1" fill="#303030"/>
<rect shape-rendering="crispEdges" x="897" y="2" width="1" height="1" fill="#484848"/><rect shape-rendering="crispEdges" x="897" y="14" width="1" height="1" fill="#484848"/>
<rect shape-rendering="crispEdges" x="899" y="2" width="1" height="1" fill="#484848"/><rect shape-rendering="crispEdges" x="899" y="14" width="1" height="1" fill="#484848"/>
<rect shape-rendering="crispEdges" x="901" y="2" width="1" height="1" fill="#484848"/><rect shape-rendering="crispEdges" x="901" y="14" width="1" height="1" fill="#484848"/>
<rect shape-rendering="crispEdges" x="903" y="2" width="1" height="1" fill="#484848"/><rect shape-rendering="crispEdges" x="903" y="14" width="1" height="1" fill="#484848"/>
<rect shape-rendering="crispEdges" x="905" y="2" width="1" height="1" fill="#484848"/><rect shape-rendering="crispEdges" x="905" y="14" width="1" height="1" fill="#484848"/>
<rect shape-rendering="crispEdges" x="907" y="2" width="1" height="1" fill="#484848"/><rect shape-rendering="crispEdges" x="907" y="14" width="1" height="1" fill="#484848"/>
<rect shape-rendering="crispEdges" x="897" y="2" width="1" height="1" fill="#484848"/><rect shape-rendering="crispEdges" x="908" y="2" width="1" height="1" fill="#484848"/>
<rect shape-rendering="crispEdges" x="897" y="4" width="1" height="1" fill="#484848"/><rect shape-rendering="crispEdges" x="908" y="4" width="1" height="1" fill="#484848"/>
<rect shape-rendering="crispEdges" x="897" y="6" width="1" height="1" fill="#484848"/><rect shape-rendering="crispEdges" x="908" y="6" width="1" height="1" fill="#484848"/>
<rect shape-rendering="crispEdges" x="897" y="8" width="1" height="1" fill="#484848"/><rect shape-rendering="crispEdges" x="908" y="8" width="1" height="1" fill="#484848"/>
<rect shape-rendering="crispEdges" x="897" y="10" width="1" height="1" fill="#484848"/><rect shape-rendering="crispEdges" x="908" y="10" width="1" height="1" fill="#484848"/>
<rect shape-rendering="crispEdges" x="897" y="12" width="1" height="1" fill="#484848"/><rect shape-rendering="crispEdges" x="908" y="12" width="1" height="1" fill="#484848"/>
<rect shape-rendering="crispEdges" x="897" y="14" width="1" height="1" fill="#484848"/><rect shape-rendering="crispEdges" x="908" y="14" width="1" height="1" fill="#484848"/>
<rect shape-rendering="crispEdges" x="899" y="5" width="8" height="2" fill="#505050"/><rect shape-rendering="crispEdges" x="902" y="5" width="2" height="8" fill="#505050"/>
<polygon points="927.6,1.7 931,5 927.6,7.5 924.2,5" fill="#484848"/>
<polygon points="934.6,15 938,11.7 934.6,9.2 931.2,11.7" fill="#484848"/>
<path d="M926,9.5 L928.5,11.5 L932.5,6" stroke="#484848" stroke-width="1.2" fill="none"/>
<polygon points="944.7,6.7 950.7,6.7 947.7,10" fill="#000"/>
<rect shape-rendering="crispEdges" x="956" y="0" width="1" height="20" fill="#a0a0a0"/>
<rect shape-rendering="crispEdges" x="960" y="0" width="3" height="1" fill="#b4b4b4"/>
<rect shape-rendering="crispEdges" x="960" y="2" width="3" height="1" fill="#b4b4b4"/>
<rect shape-rendering="crispEdges" x="960" y="4" width="3" height="1" fill="#b4b4b4"/>
<rect shape-rendering="crispEdges" x="960" y="6" width="3" height="1" fill="#b4b4b4"/>
<rect shape-rendering="crispEdges" x="960" y="8" width="3" height="1" fill="#b4b4b4"/>
<rect shape-rendering="crispEdges" x="960" y="10" width="3" height="1" fill="#b4b4b4"/>
<rect shape-rendering="crispEdges" x="960" y="12" width="3" height="1" fill="#b4b4b4"/>
<rect shape-rendering="crispEdges" x="960" y="14" width="3" height="1" fill="#b4b4b4"/>
<rect shape-rendering="crispEdges" x="960" y="16" width="3" height="1" fill="#b4b4b4"/>
<rect shape-rendering="crispEdges" x="1134" y="0" width="1" height="18" fill="#a0a0a0"/>
<rect shape-rendering="crispEdges" x="1135" y="0" width="25" height="18" fill="#f9f9f9"/>
<rect shape-rendering="crispEdges" x="1217" y="0" width="1" height="20" fill="#a0a0a0"/>
<defs><linearGradient id="gbub" x1="0" y1="0" x2="0" y2="1"><stop offset="0" stop-color="#ffffff"/><stop offset="1" stop-color="#d4d4e0"/></linearGradient></defs>
<line x1="1685" y1="8" x2="1680" y2="12.7" stroke="#2a5cd8" stroke-width="2.6"/>
<circle cx="1687.6" cy="5.3" r="3.9" fill="#f4f4f8" stroke="#2a5cd8" stroke-width="1.3"/>
<path d="M1720,10 l2.5,2 l-0.5,-2.4" fill="#888"/><ellipse cx="1720" cy="5" rx="6.3" ry="5" fill="url(#gbub)" stroke="#909094" stroke-width="1.1"/>
<path d="M1709.5,13 l-1.5,2 l3,-1.4" fill="#888"/><ellipse cx="1711.2" cy="9.4" rx="5" ry="4" fill="url(#gbub)" stroke="#909094" stroke-width="1.1"/>
<text x="75" y="11" font-size="11.8" fill="#000" font-family="'Liberation Sans','Noto Sans CJK SC',sans-serif">新订单</text>
<text x="228.5" y="11.5" font-size="11.3" fill="#000" font-family="'Liberation Sans','Noto Sans CJK SC',sans-serif">自动交易</text>
</svg>
<div class="t" style="left:9px;top:48.57px;font-size:13.5px;line-height:13.5px;color:#fff;letter-spacing:0px;font-weight:normal;transform-origin:0 0;transform:scaleX(0.80);">SELL</div>
<div class="t" style="left:177.5px;top:48.57px;font-size:13.5px;line-height:13.5px;color:#fff;letter-spacing:0px;font-weight:normal;transform-origin:0 0;transform:scaleX(0.81);">BUY</div>
<div class="t" style="right:1595px;top:49.02px;font-size:12.5px;line-height:12.5px;color:#10103a;letter-spacing:-0.3px;font-weight:normal;">1.00</div>
<div class="t" style="left:13px;top:88.92px;font-size:12.5px;line-height:12.5px;color:#fff;letter-spacing:-0.1px;font-weight:bold;">22621</div>
<div class="t" style="left:123px;top:88.92px;font-size:12.5px;line-height:12.5px;color:#fff;letter-spacing:-0.1px;font-weight:bold;">22644</div>
<div class="t" style="left:870.2px;top:2.42px;font-size:12.5px;line-height:12.5px;color:#505050;letter-spacing:0px;font-weight:normal;-webkit-text-stroke:0.4px #505050;">A</div>
<div class="t" style="left:971px;top:3.539999999999999px;font-size:10px;line-height:10px;color:#444;letter-spacing:-0.2px;font-weight:normal;">M1</div>
<div class="t" style="left:999px;top:3.539999999999999px;font-size:10px;line-height:10px;color:#444;letter-spacing:-0.2px;font-weight:normal;">M5</div>
<div class="t" style="left:1025px;top:3.539999999999999px;font-size:10px;line-height:10px;color:#444;letter-spacing:-0.2px;font-weight:normal;">M15</div>
<div class="t" style="left:1053px;top:3.539999999999999px;font-size:10px;line-height:10px;color:#444;letter-spacing:-0.2px;font-weight:normal;">M30</div>
<div class="t" style="left:1084px;top:3.539999999999999px;font-size:10px;line-height:10px;color:#444;letter-spacing:-0.2px;font-weight:normal;">H1</div>
<div class="t" style="left:1110.8px;top:3.539999999999999px;font-size:10px;line-height:10px;color:#444;letter-spacing:-0.2px;font-weight:normal;">H4</div>
<div class="t" style="left:1167.6px;top:3.539999999999999px;font-size:10px;line-height:10px;color:#444;letter-spacing:-0.2px;font-weight:normal;">W1</div>
<div class="t" style="left:1194px;top:3.539999999999999px;font-size:10px;line-height:10px;color:#444;letter-spacing:-0.2px;font-weight:normal;">MN</div>
<div class="t" style="left:1140px;top:3.539999999999999px;font-size:10px;line-height:10px;color:#444;letter-spacing:-0.2px;font-weight:normal;">D1</div>
</body></html>
